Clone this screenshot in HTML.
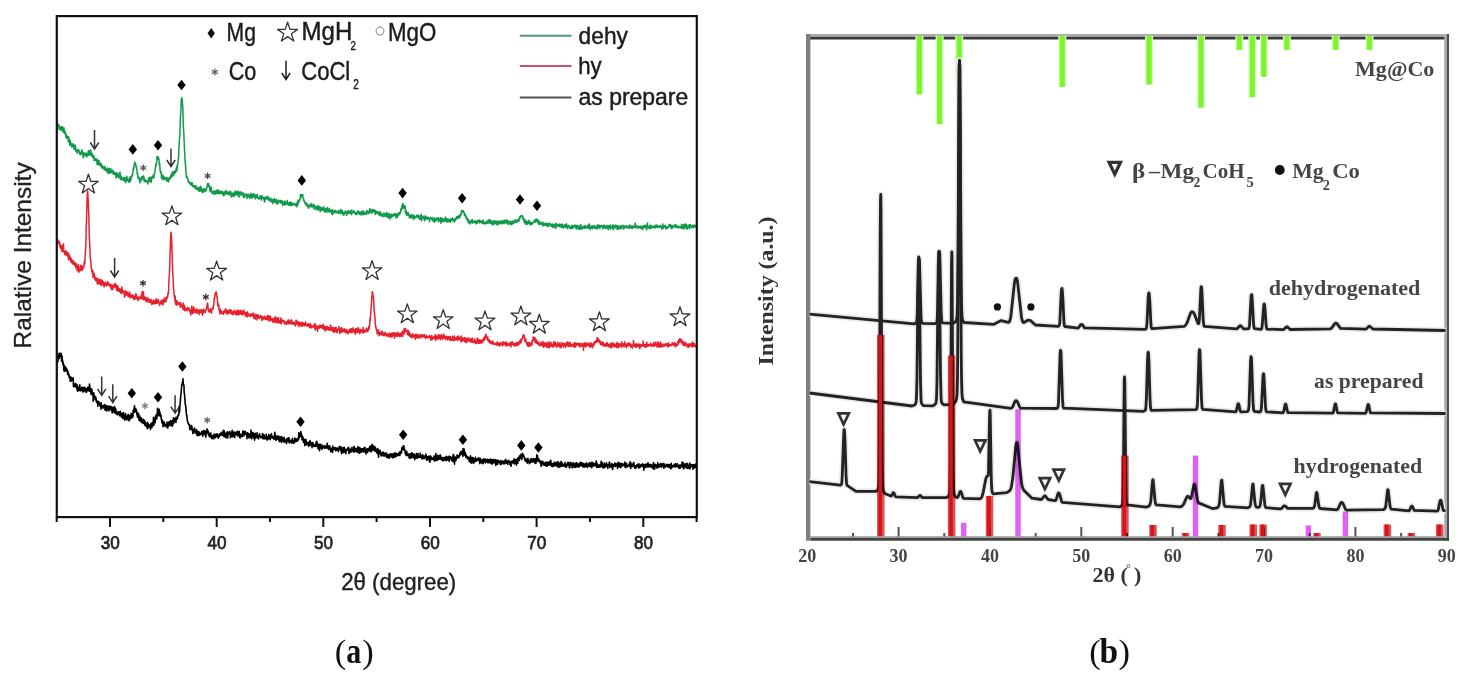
<!DOCTYPE html>
<html><head><meta charset="utf-8"><style>
html,body{margin:0;padding:0;background:#fff;}
body{width:1468px;height:676px;overflow:hidden;}
svg{display:block;}
.s{font-family:"Liberation Sans",sans-serif;}
.t{font-family:"Liberation Serif",serif;font-weight:bold;}
</style></head><body>
<svg width="1468" height="676" viewBox="0 0 1468 676">
<rect x="0" y="0" width="1468" height="676" fill="#fff"/>

<g fill="none" stroke-linejoin="round" stroke-linecap="round">
<polyline stroke="#129a4c" stroke-width="1.5" points="57.5,125.4 57.8,126.2 58.0,125.3 58.2,124.3 58.5,125.4 58.8,124.6 59.0,127.0 59.2,129.8 59.5,126.4 59.8,126.4 60.0,128.9 60.2,128.9 60.5,128.6 60.8,126.9 61.0,128.9 61.2,130.6 61.5,126.9 61.8,129.0 62.0,126.4 62.2,127.9 62.5,127.2 62.8,130.6 63.0,128.9 63.2,132.2 63.5,132.3 63.8,132.0 64.0,127.8 64.2,131.9 64.5,133.2 64.8,133.8 65.0,131.0 65.2,133.4 65.5,132.8 65.8,133.5 66.0,137.4 66.2,134.2 66.5,136.1 66.8,138.3 67.0,135.9 67.2,137.2 67.5,138.1 67.8,138.4 68.0,136.4 68.2,139.3 68.5,142.1 68.8,137.1 69.0,142.0 69.2,141.1 69.5,140.1 69.8,145.4 70.0,143.4 70.2,140.2 70.5,142.9 70.8,144.2 71.0,143.1 71.2,145.0 71.5,144.0 71.8,145.6 72.0,147.3 72.2,143.8 72.5,145.7 72.8,144.8 73.0,146.2 73.2,144.1 73.5,145.5 73.8,146.5 74.0,148.8 74.2,149.5 74.5,145.3 74.8,146.6 75.0,149.4 75.2,145.0 75.5,148.0 75.8,148.9 76.0,151.6 76.2,150.8 76.5,149.2 76.8,149.4 77.0,149.9 77.2,153.2 77.5,150.0 77.8,150.4 78.0,151.8 78.2,151.1 78.5,151.2 78.8,149.7 79.0,151.9 79.2,151.3 79.5,154.3 79.8,153.5 80.0,152.5 80.2,153.8 80.5,152.2 80.8,154.7 81.0,153.0 81.2,154.2 81.5,151.0 81.8,154.0 82.0,150.5 82.2,150.0 82.5,153.2 82.8,152.2 83.0,154.2 83.2,157.9 83.5,152.7 83.8,153.1 84.0,154.7 84.2,155.3 84.5,154.2 84.8,154.2 85.0,155.9 85.2,155.7 85.5,153.1 85.8,154.8 86.0,155.1 86.2,153.3 86.5,155.6 86.8,153.7 87.0,156.9 87.2,155.5 87.5,155.3 87.8,154.0 88.0,154.7 88.2,151.3 88.5,152.6 88.8,154.9 89.0,150.4 89.2,155.2 89.5,150.5 89.8,154.5 90.0,151.5 90.2,154.1 90.5,152.9 90.8,150.0 91.0,155.0 91.2,155.6 91.5,153.4 91.8,153.5 92.0,154.2 92.2,153.4 92.5,157.5 92.8,155.2 93.0,156.5 93.2,155.7 93.5,156.5 93.8,155.8 94.0,160.4 94.2,158.4 94.5,160.6 94.8,159.3 95.0,158.3 95.2,159.2 95.5,159.1 95.8,160.3 96.0,159.9 96.2,160.3 96.5,158.7 96.8,159.9 97.0,164.3 97.2,160.6 97.5,160.2 97.8,162.8 98.0,164.8 98.2,160.3 98.5,162.6 98.8,162.1 99.0,160.5 99.2,164.9 99.5,163.9 99.8,164.3 100.0,163.2 100.2,165.4 100.5,164.0 100.8,164.9 101.0,163.5 101.2,163.6 101.5,168.0 101.8,165.2 102.0,166.7 102.2,166.4 102.5,166.0 102.8,166.1 103.0,168.1 103.2,166.8 103.5,167.2 103.8,167.7 104.0,169.7 104.2,169.1 104.5,168.8 104.8,167.4 105.0,166.3 105.2,170.2 105.5,170.4 105.8,168.8 106.0,170.0 106.2,170.6 106.5,170.8 106.8,171.1 107.0,169.0 107.2,172.4 107.5,168.1 107.8,171.6 108.0,171.2 108.2,171.9 108.5,173.7 108.8,173.2 109.0,169.1 109.2,168.4 109.5,172.5 109.8,169.8 110.0,171.5 110.2,173.0 110.5,169.2 110.8,168.6 111.0,172.5 111.2,172.3 111.5,171.9 111.8,172.5 112.0,171.2 112.2,170.3 112.5,172.6 112.8,171.5 113.0,170.5 113.2,174.0 113.5,173.3 113.8,174.2 114.0,172.1 114.2,172.7 114.5,172.3 114.8,172.6 115.0,174.5 115.2,173.1 115.5,175.0 115.8,175.1 116.0,177.9 116.2,172.7 116.5,176.4 116.8,175.0 117.0,175.2 117.2,173.1 117.5,174.8 117.8,176.8 118.0,175.7 118.2,176.1 118.5,175.7 118.8,178.0 119.0,176.4 119.2,173.2 119.5,175.6 119.8,173.8 120.0,172.0 120.2,176.4 120.5,179.4 120.8,177.6 121.0,175.8 121.2,176.3 121.5,179.7 121.8,178.3 122.0,178.3 122.2,178.3 122.5,178.6 122.8,179.9 123.0,179.6 123.2,179.2 123.5,177.4 123.8,179.9 124.0,178.2 124.2,181.0 124.5,177.6 124.8,179.4 125.0,179.7 125.2,177.8 125.5,182.4 125.8,182.1 126.0,179.3 126.2,181.2 126.5,180.6 126.8,176.2 127.0,180.5 127.2,180.0 127.5,180.3 127.8,178.5 128.0,179.7 128.2,179.9 128.5,181.9 128.8,180.6 129.0,180.0 129.2,182.2 129.5,179.0 129.8,179.1 130.0,176.8 130.2,181.6 130.5,180.4 130.8,180.0 131.0,179.2 131.2,177.8 131.5,177.4 131.8,175.9 132.0,175.2 132.2,174.6 132.5,175.7 132.8,173.1 133.0,171.0 133.2,168.9 133.5,167.5 133.8,169.5 134.0,166.7 134.2,164.9 134.5,163.5 134.8,161.9 135.0,163.2 135.2,164.9 135.5,163.5 135.8,164.7 136.0,165.8 136.2,167.5 136.5,166.4 136.8,169.8 137.0,170.2 137.2,174.1 137.5,172.8 137.8,175.9 138.0,178.3 138.2,176.5 138.5,176.8 138.8,178.6 139.0,178.9 139.2,177.9 139.5,180.4 139.8,183.0 140.0,179.8 140.2,179.9 140.5,178.6 140.8,180.5 141.0,177.9 141.2,177.7 141.5,180.7 141.8,176.8 142.0,179.0 142.2,178.9 142.5,176.4 142.8,176.6 143.0,178.8 143.2,176.1 143.5,176.3 143.8,176.0 144.0,178.8 144.2,181.7 144.5,181.5 144.8,179.0 145.0,179.5 145.2,180.2 145.5,181.5 145.8,180.9 146.0,181.6 146.2,181.7 146.5,180.8 146.8,181.2 147.0,181.6 147.2,181.1 147.5,182.0 147.8,183.9 148.0,181.9 148.2,181.0 148.5,178.3 148.8,181.3 149.0,177.7 149.2,178.3 149.5,181.6 149.8,181.2 150.0,179.8 150.2,177.2 150.5,179.1 150.8,178.5 151.0,180.3 151.2,182.5 151.5,179.2 151.8,177.5 152.0,176.7 152.2,178.2 152.5,177.7 152.8,176.0 153.0,177.5 153.2,175.2 153.5,178.2 153.8,177.5 154.0,176.9 154.2,173.8 154.5,174.3 154.8,172.3 155.0,170.7 155.2,169.5 155.5,166.6 155.8,164.8 156.0,166.6 156.2,163.5 156.5,162.5 156.8,162.1 157.0,156.6 157.2,156.9 157.5,157.6 157.8,157.6 158.0,156.6 158.2,159.3 158.5,159.0 158.8,158.2 159.0,160.1 159.2,164.3 159.5,165.4 159.8,163.5 160.0,169.9 160.2,170.3 160.5,172.8 160.8,171.4 161.0,172.6 161.2,172.3 161.5,178.7 161.8,175.3 162.0,178.5 162.2,175.7 162.5,177.3 162.8,174.9 163.0,177.1 163.2,179.4 163.5,176.2 163.8,179.9 164.0,179.0 164.2,177.0 164.5,178.0 164.8,178.2 165.0,179.0 165.2,178.3 165.5,178.0 165.8,178.9 166.0,177.9 166.2,177.6 166.5,179.6 166.8,181.1 167.0,177.5 167.2,179.9 167.5,178.9 167.8,178.4 168.0,181.2 168.2,179.1 168.5,182.0 168.8,178.4 169.0,179.9 169.2,178.7 169.5,177.5 169.8,179.2 170.0,177.7 170.2,178.5 170.5,177.1 170.8,175.1 171.0,176.2 171.2,176.1 171.5,177.2 171.8,174.1 172.0,175.2 172.2,172.4 172.5,175.9 172.8,173.0 173.0,171.7 173.2,174.2 173.5,175.8 173.8,171.5 174.0,171.9 174.2,172.2 174.5,171.3 174.8,173.4 175.0,171.2 175.2,171.0 175.5,172.6 175.8,170.1 176.0,171.5 176.2,168.8 176.5,167.7 176.8,166.0 177.0,170.7 177.2,166.2 177.5,165.7 177.8,163.6 178.0,161.9 178.2,159.3 178.5,159.4 178.8,151.6 179.0,147.1 179.2,143.7 179.5,138.5 179.8,136.7 180.0,131.3 180.2,122.9 180.5,116.5 180.8,112.5 181.0,110.1 181.2,99.4 181.5,101.5 181.8,97.5 182.0,100.9 182.2,99.5 182.5,104.1 182.8,107.0 183.0,113.4 183.2,123.0 183.5,128.5 183.8,132.9 184.0,138.3 184.2,142.5 184.5,149.9 184.8,155.2 185.0,159.4 185.2,163.0 185.5,164.7 185.8,169.0 186.0,171.3 186.2,175.2 186.5,177.6 186.8,176.0 187.0,176.2 187.2,178.2 187.5,178.2 187.8,178.7 188.0,180.4 188.2,179.5 188.5,182.4 188.8,181.8 189.0,182.7 189.2,182.4 189.5,182.0 189.8,182.0 190.0,183.3 190.2,183.1 190.5,184.6 190.8,184.5 191.0,182.7 191.2,185.0 191.5,183.2 191.8,184.5 192.0,185.2 192.2,182.8 192.5,186.1 192.8,186.4 193.0,186.1 193.2,185.9 193.5,186.2 193.8,185.5 194.0,186.7 194.2,186.4 194.5,187.5 194.8,185.8 195.0,188.0 195.2,188.0 195.5,187.8 195.8,187.5 196.0,189.0 196.2,186.0 196.5,189.2 196.8,189.0 197.0,189.2 197.2,189.4 197.5,188.0 197.8,188.7 198.0,190.1 198.2,189.9 198.5,189.7 198.8,187.3 199.0,190.3 199.2,191.3 199.5,191.1 199.8,190.1 200.0,187.6 200.2,191.2 200.5,189.7 200.8,186.3 201.0,190.5 201.2,187.9 201.5,188.2 201.8,189.2 202.0,192.0 202.2,189.7 202.5,190.6 202.8,192.7 203.0,192.5 203.2,190.1 203.5,190.0 203.8,188.5 204.0,189.3 204.2,190.9 204.5,190.9 204.8,190.4 205.0,191.7 205.2,189.1 205.5,190.0 205.8,190.9 206.0,190.4 206.2,190.7 206.5,189.2 206.8,187.6 207.0,187.8 207.2,185.1 207.5,183.4 207.8,186.0 208.0,184.9 208.2,185.7 208.5,183.5 208.8,186.1 209.0,186.7 209.2,187.1 209.5,185.8 209.8,189.1 210.0,191.3 210.2,190.9 210.5,189.7 210.8,190.7 211.0,192.0 211.2,187.1 211.5,190.9 211.8,191.9 212.0,192.2 212.2,193.7 212.5,192.9 212.8,191.8 213.0,191.8 213.2,192.6 213.5,190.7 213.8,191.5 214.0,192.8 214.2,194.4 214.5,191.4 214.8,191.6 215.0,192.0 215.2,193.6 215.5,191.7 215.8,193.9 216.0,190.5 216.2,191.6 216.5,191.6 216.8,193.0 217.0,193.4 217.2,189.9 217.5,190.7 217.8,192.5 218.0,191.2 218.2,190.0 218.5,193.6 218.8,192.9 219.0,192.9 219.2,191.6 219.5,193.7 219.8,191.9 220.0,193.8 220.2,191.1 220.5,191.2 220.8,192.7 221.0,191.4 221.2,193.4 221.5,192.8 221.8,191.2 222.0,192.6 222.2,192.1 222.5,193.9 222.8,191.7 223.0,192.0 223.2,194.4 223.5,195.8 223.8,195.5 224.0,192.8 224.2,193.1 224.5,194.9 224.8,192.6 225.0,191.5 225.2,193.0 225.5,193.5 225.8,191.8 226.0,190.6 226.2,191.0 226.5,193.9 226.8,192.0 227.0,192.9 227.2,193.4 227.5,194.0 227.8,192.7 228.0,193.9 228.2,191.9 228.5,192.7 228.8,191.8 229.0,194.8 229.2,193.3 229.5,192.3 229.8,192.9 230.0,193.1 230.2,194.4 230.5,191.2 230.8,192.0 231.0,192.9 231.2,197.0 231.5,194.9 231.8,193.4 232.0,194.6 232.2,196.5 232.5,193.3 232.8,193.2 233.0,195.4 233.2,194.4 233.5,194.7 233.8,193.1 234.0,196.5 234.2,196.2 234.5,194.7 234.8,194.8 235.0,191.1 235.2,194.8 235.5,193.7 235.8,194.6 236.0,195.0 236.2,193.6 236.5,191.7 236.8,194.6 237.0,193.1 237.2,193.7 237.5,193.4 237.8,193.8 238.0,191.1 238.2,196.0 238.5,194.7 238.8,195.9 239.0,197.1 239.2,194.4 239.5,191.9 239.8,193.2 240.0,192.8 240.2,193.8 240.5,194.7 240.8,191.8 241.0,195.1 241.2,192.6 241.5,195.1 241.8,194.6 242.0,194.3 242.2,194.7 242.5,194.1 242.8,194.0 243.0,192.6 243.2,194.9 243.5,197.5 243.8,197.7 244.0,196.8 244.2,196.0 244.5,194.1 244.8,197.1 245.0,195.1 245.2,195.1 245.5,194.8 245.8,195.4 246.0,194.7 246.2,195.2 246.5,193.9 246.8,194.9 247.0,198.6 247.2,195.4 247.5,195.2 247.8,196.3 248.0,196.5 248.2,194.1 248.5,195.4 248.8,196.9 249.0,196.1 249.2,195.9 249.5,197.9 249.8,194.9 250.0,196.0 250.2,195.2 250.5,198.0 250.8,193.3 251.0,195.1 251.2,195.4 251.5,197.0 251.8,197.0 252.0,198.1 252.2,194.1 252.5,197.3 252.8,195.9 253.0,195.5 253.2,197.2 253.5,195.2 253.8,193.7 254.0,196.0 254.2,194.5 254.5,195.8 254.8,197.2 255.0,197.2 255.2,199.0 255.5,196.6 255.8,194.8 256.0,195.9 256.2,195.7 256.5,195.4 256.8,197.7 257.0,196.2 257.2,194.5 257.5,198.2 257.8,197.1 258.0,197.8 258.2,197.5 258.5,198.3 258.8,197.5 259.0,199.2 259.2,198.1 259.5,198.1 259.8,198.2 260.0,195.7 260.2,197.5 260.5,197.4 260.8,198.1 261.0,196.1 261.2,200.2 261.5,198.1 261.8,196.4 262.0,195.8 262.2,197.8 262.5,198.1 262.8,197.3 263.0,198.4 263.2,197.5 263.5,199.1 263.8,197.5 264.0,198.5 264.2,199.9 264.5,202.1 264.8,197.3 265.0,198.1 265.2,197.6 265.5,199.9 265.8,197.3 266.0,198.3 266.2,198.9 266.5,197.7 266.8,197.8 267.0,198.5 267.2,196.3 267.5,197.3 267.8,198.7 268.0,199.5 268.2,199.1 268.5,197.0 268.8,198.9 269.0,200.6 269.2,200.3 269.5,199.5 269.8,198.5 270.0,200.6 270.2,199.0 270.5,198.3 270.8,198.8 271.0,201.9 271.2,200.3 271.5,201.6 271.8,199.4 272.0,201.4 272.2,199.4 272.5,200.0 272.8,203.6 273.0,201.3 273.2,199.7 273.5,200.3 273.8,200.9 274.0,202.1 274.2,199.9 274.5,198.3 274.8,200.3 275.0,200.7 275.2,200.9 275.5,202.6 275.8,201.3 276.0,202.0 276.2,199.5 276.5,202.2 276.8,203.9 277.0,202.2 277.2,201.5 277.5,201.5 277.8,203.7 278.0,200.1 278.2,201.3 278.5,202.1 278.8,202.5 279.0,201.0 279.2,202.0 279.5,201.3 279.8,201.9 280.0,201.6 280.2,200.3 280.5,201.9 280.8,203.1 281.0,200.7 281.2,201.8 281.5,203.0 281.8,200.8 282.0,202.5 282.2,200.9 282.5,203.8 282.8,205.4 283.0,205.1 283.2,202.2 283.5,203.5 283.8,202.8 284.0,202.8 284.2,204.8 284.5,201.0 284.8,204.2 285.0,202.8 285.2,204.8 285.5,203.2 285.8,202.1 286.0,203.4 286.2,204.1 286.5,203.2 286.8,203.9 287.0,202.6 287.2,200.5 287.5,204.5 287.8,204.3 288.0,203.6 288.2,203.6 288.5,204.9 288.8,203.0 289.0,202.7 289.2,203.4 289.5,205.3 289.8,201.9 290.0,205.3 290.2,203.0 290.5,202.4 290.8,205.5 291.0,203.8 291.2,202.3 291.5,203.5 291.8,205.2 292.0,205.6 292.2,203.5 292.5,204.6 292.8,205.0 293.0,203.3 293.2,204.6 293.5,204.1 293.8,203.5 294.0,203.6 294.2,204.3 294.5,204.2 294.8,203.5 295.0,203.6 295.2,205.6 295.5,204.4 295.8,205.2 296.0,205.6 296.2,204.7 296.5,206.8 296.8,202.7 297.0,204.6 297.2,203.0 297.5,205.6 297.8,205.1 298.0,200.1 298.2,201.0 298.5,202.8 298.8,202.5 299.0,201.9 299.2,200.3 299.5,200.4 299.8,200.1 300.0,198.5 300.2,199.3 300.5,194.4 300.8,197.6 301.0,194.9 301.2,197.1 301.5,195.3 301.8,194.4 302.0,196.1 302.2,194.7 302.5,195.1 302.8,194.7 303.0,197.3 303.2,198.6 303.5,200.0 303.8,199.2 304.0,201.4 304.2,200.7 304.5,201.1 304.8,202.6 305.0,203.7 305.2,202.4 305.5,202.9 305.8,203.4 306.0,204.1 306.2,203.1 306.5,205.8 306.8,204.2 307.0,205.5 307.2,204.0 307.5,205.6 307.8,205.8 308.0,204.9 308.2,208.1 308.5,206.1 308.8,208.0 309.0,207.0 309.2,205.0 309.5,205.4 309.8,206.5 310.0,206.1 310.2,206.2 310.5,205.8 310.8,203.9 311.0,206.0 311.2,203.5 311.5,206.9 311.8,205.5 312.0,205.6 312.2,206.3 312.5,207.0 312.8,204.9 313.0,204.5 313.2,205.4 313.5,204.3 313.8,205.7 314.0,209.0 314.2,205.7 314.5,207.9 314.8,205.4 315.0,207.6 315.2,206.9 315.5,207.3 315.8,208.2 316.0,209.7 316.2,207.8 316.5,207.8 316.8,206.5 317.0,208.5 317.2,207.5 317.5,208.9 317.8,207.9 318.0,210.2 318.2,205.6 318.5,207.8 318.8,209.3 319.0,207.8 319.2,207.4 319.5,208.1 319.8,206.8 320.0,208.7 320.2,211.7 320.5,210.1 320.8,207.4 321.0,207.7 321.2,208.4 321.5,210.2 321.8,208.0 322.0,208.2 322.2,210.3 322.5,210.3 322.8,208.8 323.0,208.0 323.2,207.5 323.5,208.6 323.8,206.8 324.0,210.6 324.2,208.9 324.5,210.4 324.8,212.2 325.0,211.4 325.2,208.5 325.5,211.1 325.8,211.5 326.0,209.2 326.2,209.0 326.5,210.1 326.8,208.3 327.0,212.2 327.2,207.4 327.5,209.1 327.8,210.2 328.0,210.3 328.2,210.9 328.5,211.1 328.8,210.5 329.0,212.2 329.2,208.2 329.5,210.9 329.8,210.1 330.0,211.2 330.2,211.3 330.5,210.0 330.8,210.4 331.0,212.2 331.2,211.7 331.5,210.4 331.8,213.8 332.0,214.2 332.2,209.6 332.5,211.8 332.8,214.6 333.0,212.5 333.2,211.8 333.5,211.3 333.8,210.9 334.0,211.3 334.2,210.9 334.5,212.6 334.8,211.2 335.0,211.2 335.2,210.2 335.5,211.7 335.8,210.7 336.0,211.6 336.2,213.1 336.5,212.3 336.8,212.5 337.0,212.3 337.2,212.0 337.5,211.8 337.8,211.6 338.0,212.9 338.2,210.6 338.5,213.6 338.8,212.1 339.0,211.1 339.2,211.4 339.5,211.2 339.8,212.3 340.0,211.2 340.2,213.5 340.5,211.2 340.8,209.4 341.0,211.3 341.2,209.7 341.5,212.1 341.8,213.5 342.0,213.0 342.2,210.6 342.5,211.3 342.8,214.5 343.0,212.7 343.2,212.3 343.5,213.6 343.8,215.3 344.0,213.9 344.2,212.5 344.5,212.8 344.8,213.1 345.0,211.6 345.2,211.1 345.5,212.5 345.8,211.3 346.0,212.4 346.2,212.6 346.5,215.3 346.8,211.4 347.0,212.3 347.2,212.3 347.5,213.0 347.8,213.8 348.0,211.9 348.2,211.5 348.5,210.5 348.8,211.4 349.0,213.2 349.2,212.6 349.5,211.4 349.8,212.2 350.0,212.7 350.2,213.2 350.5,211.9 350.8,212.3 351.0,210.4 351.2,211.3 351.5,214.7 351.8,210.0 352.0,212.3 352.2,213.0 352.5,212.3 352.8,211.7 353.0,212.7 353.2,212.8 353.5,212.7 353.8,210.5 354.0,212.6 354.2,211.8 354.5,212.1 354.8,213.1 355.0,213.6 355.2,213.9 355.5,212.2 355.8,214.0 356.0,214.3 356.2,214.3 356.5,214.6 356.8,212.7 357.0,212.7 357.2,213.9 357.5,211.3 357.8,213.2 358.0,212.3 358.2,212.5 358.5,210.8 358.8,211.9 359.0,213.0 359.2,214.1 359.5,214.2 359.8,212.9 360.0,212.8 360.2,212.0 360.5,213.5 360.8,212.7 361.0,213.7 361.2,215.1 361.5,213.0 361.8,211.2 362.0,211.9 362.2,211.2 362.5,211.5 362.8,214.6 363.0,213.2 363.2,211.1 363.5,213.7 363.8,214.4 364.0,212.4 364.2,212.0 364.5,212.4 364.8,213.1 365.0,213.5 365.2,214.2 365.5,214.2 365.8,214.1 366.0,214.3 366.2,213.4 366.5,210.6 366.8,212.3 367.0,212.8 367.2,211.9 367.5,213.4 367.8,211.7 368.0,211.0 368.2,213.8 368.5,212.8 368.8,212.2 369.0,212.9 369.2,213.0 369.5,212.1 369.8,208.6 370.0,210.7 370.2,210.9 370.5,210.1 370.8,211.5 371.0,212.6 371.2,210.5 371.5,209.7 371.8,213.4 372.0,210.4 372.2,209.4 372.5,211.1 372.8,211.3 373.0,210.0 373.2,211.8 373.5,210.2 373.8,209.7 374.0,211.1 374.2,211.8 374.5,210.2 374.8,211.4 375.0,211.0 375.2,214.6 375.5,210.4 375.8,213.0 376.0,211.4 376.2,211.4 376.5,212.6 376.8,212.9 377.0,213.5 377.2,212.5 377.5,211.5 377.8,211.7 378.0,213.1 378.2,213.3 378.5,214.4 378.8,213.4 379.0,214.3 379.2,215.0 379.5,213.5 379.8,211.6 380.0,212.1 380.2,211.9 380.5,215.7 380.8,212.8 381.0,215.4 381.2,214.8 381.5,216.2 381.8,215.5 382.0,214.2 382.2,214.2 382.5,214.6 382.8,214.8 383.0,214.1 383.2,214.7 383.5,216.8 383.8,212.9 384.0,215.3 384.2,213.9 384.5,215.3 384.8,216.1 385.0,215.1 385.2,216.2 385.5,213.4 385.8,216.6 386.0,214.6 386.2,216.1 386.5,215.6 386.8,212.4 387.0,214.6 387.2,215.8 387.5,217.4 387.8,215.9 388.0,215.9 388.2,213.9 388.5,217.3 388.8,217.8 389.0,215.7 389.2,215.4 389.5,213.8 389.8,216.8 390.0,218.9 390.2,216.6 390.5,217.2 390.8,216.4 391.0,214.6 391.2,217.4 391.5,214.3 391.8,215.5 392.0,216.1 392.2,216.8 392.5,216.3 392.8,216.2 393.0,214.9 393.2,214.2 393.5,215.9 393.8,214.9 394.0,214.2 394.2,214.2 394.5,215.2 394.8,213.5 395.0,214.1 395.2,213.8 395.5,215.9 395.8,216.2 396.0,218.0 396.2,213.8 396.5,214.8 396.8,216.6 397.0,215.2 397.2,215.0 397.5,217.4 397.8,214.8 398.0,213.7 398.2,213.4 398.5,215.2 398.8,215.0 399.0,212.7 399.2,212.9 399.5,214.4 399.8,214.0 400.0,212.1 400.2,213.2 400.5,212.6 400.8,209.1 401.0,210.3 401.2,210.4 401.5,208.6 401.8,206.0 402.0,207.5 402.2,208.0 402.5,208.4 402.8,203.4 403.0,208.8 403.2,204.2 403.5,206.6 403.8,207.1 404.0,207.2 404.2,206.7 404.5,205.7 404.8,208.5 405.0,207.6 405.2,206.2 405.5,213.3 405.8,211.5 406.0,213.5 406.2,210.9 406.5,214.3 406.8,214.9 407.0,215.4 407.2,213.9 407.5,212.9 407.8,214.4 408.0,212.2 408.2,213.1 408.5,215.4 408.8,214.3 409.0,215.4 409.2,215.6 409.5,218.1 409.8,217.5 410.0,215.9 410.2,217.5 410.5,215.2 410.8,215.8 411.0,217.3 411.2,214.8 411.5,216.0 411.8,214.8 412.0,216.5 412.2,218.4 412.5,215.6 412.8,216.8 413.0,215.5 413.2,215.2 413.5,215.1 413.8,218.4 414.0,219.5 414.2,217.3 414.5,215.9 414.8,217.6 415.0,216.4 415.2,217.8 415.5,217.2 415.8,217.2 416.0,217.6 416.2,216.2 416.5,216.5 416.8,214.9 417.0,216.5 417.2,215.3 417.5,216.9 417.8,215.9 418.0,217.2 418.2,217.7 418.5,215.5 418.8,216.2 419.0,216.1 419.2,218.1 419.5,219.3 419.8,218.3 420.0,216.9 420.2,219.1 420.5,215.6 420.8,219.2 421.0,216.7 421.2,214.2 421.5,220.7 421.8,219.4 422.0,216.4 422.2,217.8 422.5,217.4 422.8,217.8 423.0,216.0 423.2,216.9 423.5,218.3 423.8,218.1 424.0,219.2 424.2,218.0 424.5,220.7 424.8,217.1 425.0,218.3 425.2,215.7 425.5,216.5 425.8,219.6 426.0,217.0 426.2,218.7 426.5,218.1 426.8,216.9 427.0,217.8 427.2,217.6 427.5,217.7 427.8,219.2 428.0,219.1 428.2,217.7 428.5,217.3 428.8,218.8 429.0,218.3 429.2,219.7 429.5,221.6 429.8,219.5 430.0,218.5 430.2,218.4 430.5,217.6 430.8,217.6 431.0,217.5 431.2,218.3 431.5,218.3 431.8,219.7 432.0,218.4 432.2,218.6 432.5,217.5 432.8,220.9 433.0,219.6 433.2,221.1 433.5,219.9 433.8,220.8 434.0,218.8 434.2,219.9 434.5,222.3 434.8,217.7 435.0,220.6 435.2,221.2 435.5,219.7 435.8,220.2 436.0,220.8 436.2,218.5 436.5,219.8 436.8,218.3 437.0,218.6 437.2,218.7 437.5,219.3 437.8,219.7 438.0,220.0 438.2,217.8 438.5,221.9 438.8,221.0 439.0,220.5 439.2,219.2 439.5,219.5 439.8,220.3 440.0,220.2 440.2,217.7 440.5,220.6 440.8,223.2 441.0,217.6 441.2,221.0 441.5,220.2 441.8,219.7 442.0,221.5 442.2,218.4 442.5,220.1 442.8,221.6 443.0,219.7 443.2,219.4 443.5,220.1 443.8,219.4 444.0,221.8 444.2,218.9 444.5,221.0 444.8,218.5 445.0,220.8 445.2,219.9 445.5,216.9 445.8,220.0 446.0,218.8 446.2,219.5 446.5,221.9 446.8,218.7 447.0,218.8 447.2,221.8 447.5,220.2 447.8,221.9 448.0,220.4 448.2,219.0 448.5,220.0 448.8,221.5 449.0,221.2 449.2,220.1 449.5,220.1 449.8,219.9 450.0,219.3 450.2,222.3 450.5,220.0 450.8,218.7 451.0,219.4 451.2,220.8 451.5,220.7 451.8,219.8 452.0,219.1 452.2,219.9 452.5,217.9 452.8,218.3 453.0,220.7 453.2,219.2 453.5,220.2 453.8,221.1 454.0,220.4 454.2,219.6 454.5,222.1 454.8,220.3 455.0,219.0 455.2,220.3 455.5,219.8 455.8,218.3 456.0,219.3 456.2,218.9 456.5,216.7 456.8,218.7 457.0,218.5 457.2,218.1 457.5,216.5 457.8,217.9 458.0,218.1 458.2,218.0 458.5,216.3 458.8,218.1 459.0,215.6 459.2,216.5 459.5,217.9 459.8,215.2 460.0,215.0 460.2,216.5 460.5,214.3 460.8,213.9 461.0,214.1 461.2,214.6 461.5,210.4 461.8,211.6 462.0,211.0 462.2,210.7 462.5,210.8 462.8,210.7 463.0,212.1 463.2,210.8 463.5,212.2 463.8,212.8 464.0,211.9 464.2,213.3 464.5,215.6 464.8,214.6 465.0,214.0 465.2,215.3 465.5,214.8 465.8,216.8 466.0,218.0 466.2,216.5 466.5,217.7 466.8,219.7 467.0,218.2 467.2,219.4 467.5,218.3 467.8,218.9 468.0,219.5 468.2,222.9 468.5,220.1 468.8,220.2 469.0,220.3 469.2,221.0 469.5,222.0 469.8,221.6 470.0,223.9 470.2,221.9 470.5,223.4 470.8,222.1 471.0,222.5 471.2,220.3 471.5,221.8 471.8,221.9 472.0,221.7 472.2,219.6 472.5,223.1 472.8,221.6 473.0,221.6 473.2,221.8 473.5,221.9 473.8,222.6 474.0,220.7 474.2,221.1 474.5,222.5 474.8,222.4 475.0,221.8 475.2,221.6 475.5,221.3 475.8,222.2 476.0,223.6 476.2,221.0 476.5,224.0 476.8,223.2 477.0,221.8 477.2,223.2 477.5,220.6 477.8,220.3 478.0,220.8 478.2,221.8 478.5,221.9 478.8,221.7 479.0,222.4 479.2,219.9 479.5,222.9 479.8,220.7 480.0,221.6 480.2,221.9 480.5,221.0 480.8,220.8 481.0,221.2 481.2,222.3 481.5,223.0 481.8,223.0 482.0,221.2 482.2,221.5 482.5,221.3 482.8,222.9 483.0,220.0 483.2,223.8 483.5,221.8 483.8,221.5 484.0,222.8 484.2,223.6 484.5,222.8 484.8,223.6 485.0,222.5 485.2,223.8 485.5,223.8 485.8,222.3 486.0,224.0 486.2,222.6 486.5,222.5 486.8,221.3 487.0,222.1 487.2,223.3 487.5,220.9 487.8,223.1 488.0,222.8 488.2,222.7 488.5,219.9 488.8,222.3 489.0,223.1 489.2,221.5 489.5,222.5 489.8,219.7 490.0,223.2 490.2,221.7 490.5,223.4 490.8,220.3 491.0,223.2 491.2,222.1 491.5,223.3 491.8,221.4 492.0,221.7 492.2,225.0 492.5,221.5 492.8,221.6 493.0,222.1 493.2,221.2 493.5,223.8 493.8,224.4 494.0,221.6 494.2,220.4 494.5,223.7 494.8,223.7 495.0,223.4 495.2,223.7 495.5,221.4 495.8,222.2 496.0,220.8 496.2,220.8 496.5,223.5 496.8,221.6 497.0,225.0 497.2,222.5 497.5,221.7 497.8,223.3 498.0,224.5 498.2,223.0 498.5,221.0 498.8,222.8 499.0,224.0 499.2,221.8 499.5,221.5 499.8,223.6 500.0,222.6 500.2,221.2 500.5,222.0 500.8,221.5 501.0,222.7 501.2,222.5 501.5,223.7 501.8,223.2 502.0,220.6 502.2,222.9 502.5,223.4 502.8,222.9 503.0,223.6 503.2,221.8 503.5,221.3 503.8,223.5 504.0,221.2 504.2,219.9 504.5,223.6 504.8,221.6 505.0,222.0 505.2,220.8 505.5,220.9 505.8,221.1 506.0,222.0 506.2,222.8 506.5,219.8 506.8,223.2 507.0,221.0 507.2,221.1 507.5,223.1 507.8,222.3 508.0,220.6 508.2,224.4 508.5,221.4 508.8,222.6 509.0,222.6 509.2,223.9 509.5,221.8 509.8,223.5 510.0,221.5 510.2,223.6 510.5,221.4 510.8,221.9 511.0,224.4 511.2,222.6 511.5,222.4 511.8,224.8 512.0,222.7 512.2,221.3 512.5,223.1 512.8,220.9 513.0,223.5 513.2,223.6 513.5,221.5 513.8,221.5 514.0,222.4 514.2,222.2 514.5,221.0 514.8,222.8 515.0,219.8 515.2,221.6 515.5,221.6 515.8,221.7 516.0,222.3 516.2,220.5 516.5,222.5 516.8,221.5 517.0,220.8 517.2,219.9 517.5,219.9 517.8,221.5 518.0,219.7 518.2,220.6 518.5,221.4 518.8,220.9 519.0,221.1 519.2,218.5 519.5,217.0 519.8,218.8 520.0,217.4 520.2,217.8 520.5,216.0 520.8,216.8 521.0,216.1 521.2,215.7 521.5,215.4 521.8,215.4 522.0,215.4 522.2,215.8 522.5,217.2 522.8,216.1 523.0,219.2 523.2,217.8 523.5,219.6 523.8,219.0 524.0,219.3 524.2,222.4 524.5,220.1 524.8,219.4 525.0,220.4 525.2,221.1 525.5,224.2 525.8,222.2 526.0,223.2 526.2,221.1 526.5,222.8 526.8,223.2 527.0,224.6 527.2,221.8 527.5,223.4 527.8,223.1 528.0,221.6 528.2,222.8 528.5,222.6 528.8,220.3 529.0,223.6 529.2,223.6 529.5,222.5 529.8,221.5 530.0,224.7 530.2,223.3 530.5,224.2 530.8,224.6 531.0,222.5 531.2,224.0 531.5,222.7 531.8,222.9 532.0,222.8 532.2,222.9 532.5,224.0 532.8,222.8 533.0,222.4 533.2,222.0 533.5,222.5 533.8,220.9 534.0,221.1 534.2,221.3 534.5,220.4 534.8,220.6 535.0,219.7 535.2,222.3 535.5,221.2 535.8,219.9 536.0,219.1 536.2,221.5 536.5,219.4 536.8,219.0 537.0,219.6 537.2,219.9 537.5,221.5 537.8,220.2 538.0,223.0 538.2,220.1 538.5,222.2 538.8,220.7 539.0,224.2 539.2,222.1 539.5,222.7 539.8,224.0 540.0,224.6 540.2,222.2 540.5,223.2 540.8,222.1 541.0,224.0 541.2,223.8 541.5,223.6 541.8,223.3 542.0,223.7 542.2,223.4 542.5,224.9 542.8,226.0 543.0,222.2 543.2,224.3 543.5,224.0 543.8,225.0 544.0,223.4 544.2,224.4 544.5,223.4 544.8,225.3 545.0,224.7 545.2,224.4 545.5,225.1 545.8,224.4 546.0,223.0 546.2,225.4 546.5,225.1 546.8,224.6 547.0,225.9 547.2,226.2 547.5,223.6 547.8,224.0 548.0,226.6 548.2,226.5 548.5,224.1 548.8,223.6 549.0,224.2 549.2,224.4 549.5,223.2 549.8,225.1 550.0,223.6 550.2,223.7 550.5,226.1 550.8,224.3 551.0,225.1 551.2,225.9 551.5,226.1 551.8,224.8 552.0,225.3 552.2,224.3 552.5,227.2 552.8,226.0 553.0,224.1 553.2,225.3 553.5,226.1 553.8,225.9 554.0,227.4 554.2,226.9 554.5,224.8 554.8,225.3 555.0,224.0 555.2,225.8 555.5,225.7 555.8,228.5 556.0,225.7 556.2,223.2 556.5,224.8 556.8,225.7 557.0,224.2 557.2,224.7 557.5,225.3 557.8,226.1 558.0,225.5 558.2,224.8 558.5,226.6 558.8,225.2 559.0,225.2 559.2,224.3 559.5,225.0 559.8,226.6 560.0,224.1 560.2,225.8 560.5,226.7 560.8,225.5 561.0,226.2 561.2,224.7 561.5,227.5 561.8,227.2 562.0,226.3 562.2,224.1 562.5,224.9 562.8,227.2 563.0,228.0 563.2,226.5 563.5,227.5 563.8,225.5 564.0,226.0 564.2,226.2 564.5,226.7 564.8,224.6 565.0,227.3 565.2,227.7 565.5,225.0 565.8,224.8 566.0,226.7 566.2,225.6 566.5,223.8 566.8,227.3 567.0,226.6 567.2,225.9 567.5,228.8 567.8,226.6 568.0,225.6 568.2,226.6 568.5,225.4 568.8,225.7 569.0,227.0 569.2,225.9 569.5,226.1 569.8,228.4 570.0,227.5 570.2,227.5 570.5,227.2 570.8,227.2 571.0,228.3 571.2,226.6 571.5,228.7 571.8,225.6 572.0,226.4 572.2,225.2 572.5,226.3 572.8,227.3 573.0,228.4 573.2,226.0 573.5,226.8 573.8,226.4 574.0,226.0 574.2,225.5 574.5,226.9 574.8,224.9 575.0,227.0 575.2,226.9 575.5,226.1 575.8,225.8 576.0,225.4 576.2,228.9 576.5,225.4 576.8,228.6 577.0,227.6 577.2,226.5 577.5,225.6 577.8,228.1 578.0,228.8 578.2,225.9 578.5,226.6 578.8,228.1 579.0,227.3 579.2,229.2 579.5,226.3 579.8,227.6 580.0,225.6 580.2,229.3 580.5,226.2 580.8,224.5 581.0,226.8 581.2,226.8 581.5,229.1 581.8,226.6 582.0,227.0 582.2,227.6 582.5,228.7 582.8,226.9 583.0,228.1 583.2,227.6 583.5,226.7 583.8,227.1 584.0,227.0 584.2,226.0 584.5,228.3 584.8,225.5 585.0,228.3 585.2,228.0 585.5,226.9 585.8,226.1 586.0,226.7 586.2,227.5 586.5,227.8 586.8,227.3 587.0,228.1 587.2,226.4 587.5,227.2 587.8,225.3 588.0,227.8 588.2,227.2 588.5,226.5 588.8,228.3 589.0,227.7 589.2,223.9 589.5,227.0 589.8,225.4 590.0,228.2 590.2,229.7 590.5,226.4 590.8,227.1 591.0,226.7 591.2,227.4 591.5,227.7 591.8,228.4 592.0,225.9 592.2,228.7 592.5,226.0 592.8,227.3 593.0,228.3 593.2,227.8 593.5,226.0 593.8,226.2 594.0,226.5 594.2,226.9 594.5,228.2 594.8,225.6 595.0,227.5 595.2,227.7 595.5,227.6 595.8,227.5 596.0,228.7 596.2,227.5 596.5,227.9 596.8,227.6 597.0,229.0 597.2,224.9 597.5,228.4 597.8,226.7 598.0,226.7 598.2,225.9 598.5,224.9 598.8,226.6 599.0,226.2 599.2,227.5 599.5,225.4 599.8,228.6 600.0,227.3 600.2,226.7 600.5,226.2 600.8,226.1 601.0,225.7 601.2,226.4 601.5,227.0 601.8,226.8 602.0,225.4 602.2,226.7 602.5,226.0 602.8,227.2 603.0,229.0 603.2,227.7 603.5,226.6 603.8,225.2 604.0,225.4 604.2,225.1 604.5,227.8 604.8,226.1 605.0,227.1 605.2,226.3 605.5,227.1 605.8,228.5 606.0,226.2 606.2,226.6 606.5,226.1 606.8,228.0 607.0,225.9 607.2,225.7 607.5,225.5 607.8,225.4 608.0,227.5 608.2,229.8 608.5,225.9 608.8,228.0 609.0,227.3 609.2,225.8 609.5,226.7 609.8,226.7 610.0,226.2 610.2,229.1 610.5,224.9 610.8,227.4 611.0,227.4 611.2,226.4 611.5,227.2 611.8,228.0 612.0,227.2 612.2,227.4 612.5,227.8 612.8,224.8 613.0,228.6 613.2,229.5 613.5,228.1 613.8,228.1 614.0,225.4 614.2,226.9 614.5,226.1 614.8,226.3 615.0,228.1 615.2,226.1 615.5,226.8 615.8,224.9 616.0,226.8 616.2,227.1 616.5,226.2 616.8,226.2 617.0,229.1 617.2,225.7 617.5,225.8 617.8,226.1 618.0,228.3 618.2,229.3 618.5,227.4 618.8,226.2 619.0,226.5 619.2,228.2 619.5,226.0 619.8,228.6 620.0,228.5 620.2,227.1 620.5,227.7 620.8,227.8 621.0,228.7 621.2,225.8 621.5,228.3 621.8,226.6 622.0,226.1 622.2,227.1 622.5,226.8 622.8,225.9 623.0,225.2 623.2,226.0 623.5,228.6 623.8,229.1 624.0,227.7 624.2,228.3 624.5,226.4 624.8,226.9 625.0,227.3 625.2,225.8 625.5,225.9 625.8,227.1 626.0,226.6 626.2,225.8 626.5,227.4 626.8,226.7 627.0,228.1 627.2,227.0 627.5,226.6 627.8,227.1 628.0,226.8 628.2,226.2 628.5,226.5 628.8,227.8 629.0,227.7 629.2,228.4 629.5,225.1 629.8,226.5 630.0,226.5 630.2,227.2 630.5,226.5 630.8,226.4 631.0,227.8 631.2,227.2 631.5,225.7 631.8,228.4 632.0,228.1 632.2,226.3 632.5,227.9 632.8,226.2 633.0,228.2 633.2,226.7 633.5,226.1 633.8,226.5 634.0,226.1 634.2,227.2 634.5,227.1 634.8,227.0 635.0,226.3 635.2,222.9 635.5,227.1 635.8,224.9 636.0,227.2 636.2,228.2 636.5,227.2 636.8,226.5 637.0,226.7 637.2,226.8 637.5,226.3 637.8,226.3 638.0,225.9 638.2,228.2 638.5,226.9 638.8,228.0 639.0,226.7 639.2,227.0 639.5,226.7 639.8,227.4 640.0,227.8 640.2,227.2 640.5,226.2 640.8,226.1 641.0,228.8 641.2,226.6 641.5,226.6 641.8,228.5 642.0,228.1 642.2,227.5 642.5,226.5 642.8,229.5 643.0,227.3 643.2,227.5 643.5,226.7 643.8,225.4 644.0,225.4 644.2,227.4 644.5,227.3 644.8,226.6 645.0,225.6 645.2,225.3 645.5,226.5 645.8,225.3 646.0,227.9 646.2,228.2 646.5,230.0 646.8,227.9 647.0,226.2 647.2,225.9 647.5,223.1 647.8,226.2 648.0,226.7 648.2,227.9 648.5,227.6 648.8,227.5 649.0,227.1 649.2,227.6 649.5,228.5 649.8,225.7 650.0,226.4 650.2,225.3 650.5,228.6 650.8,228.3 651.0,227.7 651.2,225.5 651.5,227.0 651.8,226.6 652.0,226.9 652.2,226.6 652.5,227.4 652.8,226.4 653.0,227.8 653.2,227.1 653.5,226.5 653.8,226.7 654.0,226.4 654.2,227.7 654.5,226.5 654.8,227.2 655.0,226.4 655.2,225.2 655.5,227.8 655.8,225.7 656.0,227.6 656.2,227.3 656.5,225.0 656.8,225.8 657.0,226.3 657.2,225.9 657.5,225.5 657.8,227.6 658.0,226.5 658.2,227.2 658.5,226.3 658.8,227.1 659.0,226.0 659.2,226.8 659.5,227.4 659.8,226.8 660.0,226.3 660.2,225.6 660.5,227.0 660.8,227.2 661.0,226.5 661.2,225.9 661.5,227.4 661.8,229.5 662.0,226.4 662.2,227.1 662.5,227.2 662.8,223.9 663.0,226.9 663.2,226.0 663.5,228.3 663.8,226.5 664.0,225.9 664.2,226.5 664.5,226.9 664.8,226.1 665.0,226.7 665.2,225.3 665.5,226.5 665.8,227.6 666.0,228.9 666.2,227.5 666.5,227.0 666.8,228.0 667.0,227.9 667.2,228.6 667.5,227.9 667.8,226.6 668.0,227.0 668.2,226.9 668.5,227.0 668.8,226.9 669.0,225.8 669.2,224.4 669.5,226.0 669.8,224.5 670.0,226.8 670.2,226.7 670.5,224.8 670.8,227.4 671.0,227.6 671.2,226.8 671.5,228.5 671.8,228.7 672.0,225.3 672.2,227.8 672.5,227.2 672.8,227.1 673.0,227.7 673.2,225.9 673.5,226.0 673.8,225.7 674.0,225.8 674.2,226.5 674.5,225.0 674.8,225.5 675.0,227.3 675.2,226.6 675.5,227.1 675.8,224.6 676.0,225.8 676.2,226.0 676.5,226.7 676.8,226.0 677.0,227.7 677.2,226.6 677.5,226.6 677.8,226.6 678.0,227.4 678.2,226.1 678.5,227.8 678.8,227.1 679.0,226.8 679.2,226.6 679.5,227.2 679.8,227.7 680.0,227.6 680.2,227.0 680.5,227.6 680.8,226.7 681.0,228.0 681.2,226.5 681.5,224.3 681.8,228.0 682.0,226.7 682.2,225.3 682.5,226.3 682.8,225.6 683.0,228.9 683.2,227.1 683.5,224.8 683.8,227.1 684.0,226.1 684.2,228.7 684.5,225.4 684.8,224.1 685.0,226.6 685.2,226.1 685.5,226.1 685.8,224.2 686.0,227.0 686.2,228.4 686.5,224.4 686.8,227.8 687.0,225.9 687.2,229.1 687.5,227.0 687.8,226.3 688.0,227.7 688.2,227.1 688.5,225.8 688.8,227.3 689.0,225.9 689.2,224.5 689.5,228.7 689.8,226.1 690.0,225.8 690.2,226.8 690.5,224.7 690.8,225.0 691.0,225.9 691.2,225.9 691.5,226.5 691.8,227.7 692.0,225.9 692.2,227.0 692.5,227.1 692.8,225.2 693.0,226.7 693.2,225.4 693.5,227.6 693.8,226.9 694.0,226.4 694.2,224.9 694.5,226.5 694.8,225.6 695.0,227.2 695.2,226.3 695.5,225.5"/>
<polyline stroke="#e8202e" stroke-width="1.5" points="57.5,242.1 57.8,242.1 58.0,239.9 58.2,243.8 58.5,241.3 58.8,241.7 59.0,242.9 59.2,241.6 59.5,242.6 59.8,243.5 60.0,247.3 60.2,247.6 60.5,244.5 60.8,248.6 61.0,245.7 61.2,246.9 61.5,248.3 61.8,247.5 62.0,252.0 62.2,248.1 62.5,245.7 62.8,251.0 63.0,248.0 63.2,248.6 63.5,243.7 63.8,251.8 64.0,251.8 64.2,252.1 64.5,252.8 64.8,254.6 65.0,251.6 65.2,253.8 65.5,251.0 65.8,252.1 66.0,255.1 66.2,254.2 66.5,251.2 66.8,254.8 67.0,254.1 67.2,253.2 67.5,256.0 67.8,254.7 68.0,252.8 68.2,254.0 68.5,259.8 68.8,254.0 69.0,257.6 69.2,258.7 69.5,259.1 69.8,255.9 70.0,258.0 70.2,259.2 70.5,260.8 70.8,258.5 71.0,257.9 71.2,262.2 71.5,262.8 71.8,261.8 72.0,260.3 72.2,262.5 72.5,262.3 72.8,264.0 73.0,260.4 73.2,263.3 73.5,263.1 73.8,261.6 74.0,264.4 74.2,264.3 74.5,263.8 74.8,265.5 75.0,262.5 75.2,265.2 75.5,266.3 75.8,266.3 76.0,268.0 76.2,264.0 76.5,263.7 76.8,267.0 77.0,267.6 77.2,270.8 77.5,268.2 77.8,265.6 78.0,268.7 78.2,265.8 78.5,264.8 78.8,272.3 79.0,268.2 79.2,269.0 79.5,268.7 79.8,271.0 80.0,268.3 80.2,270.0 80.5,265.9 80.8,265.3 81.0,270.3 81.2,270.4 81.5,268.6 81.8,268.0 82.0,267.8 82.2,266.1 82.5,269.9 82.8,268.1 83.0,267.6 83.2,267.0 83.5,267.8 83.8,266.3 84.0,265.9 84.2,261.4 84.5,263.0 84.8,264.0 85.0,256.5 85.2,253.7 85.5,251.0 85.8,245.5 86.0,238.1 86.2,226.4 86.5,221.6 86.8,209.7 87.0,201.8 87.2,197.1 87.5,191.1 87.8,192.0 88.0,198.9 88.2,200.6 88.5,208.5 88.8,214.6 89.0,224.1 89.2,231.8 89.5,240.4 89.8,245.9 90.0,252.1 90.2,257.2 90.5,259.2 90.8,261.1 91.0,263.2 91.2,268.0 91.5,268.6 91.8,271.3 92.0,272.2 92.2,270.6 92.5,273.2 92.8,270.3 93.0,277.6 93.2,276.4 93.5,274.6 93.8,273.6 94.0,276.9 94.2,273.5 94.5,275.9 94.8,279.1 95.0,278.3 95.2,277.6 95.5,280.4 95.8,277.2 96.0,279.7 96.2,278.6 96.5,278.2 96.8,280.7 97.0,278.4 97.2,283.6 97.5,279.5 97.8,284.2 98.0,279.0 98.2,282.1 98.5,279.2 98.8,279.1 99.0,281.9 99.2,282.9 99.5,279.7 99.8,284.1 100.0,280.8 100.2,282.6 100.5,283.1 100.8,283.6 101.0,279.6 101.2,285.6 101.5,283.9 101.8,282.4 102.0,281.4 102.2,280.4 102.5,281.1 102.8,284.5 103.0,283.0 103.2,281.8 103.5,282.9 103.8,286.6 104.0,283.5 104.2,283.1 104.5,286.5 104.8,285.1 105.0,284.5 105.2,283.4 105.5,281.9 105.8,282.6 106.0,283.9 106.2,284.4 106.5,285.5 106.8,285.9 107.0,285.4 107.2,285.5 107.5,283.5 107.8,281.6 108.0,284.5 108.2,283.8 108.5,284.4 108.8,285.1 109.0,283.5 109.2,283.8 109.5,285.6 109.8,286.0 110.0,284.8 110.2,286.8 110.5,285.7 110.8,284.4 111.0,286.2 111.2,289.4 111.5,285.1 111.8,288.3 112.0,288.7 112.2,288.8 112.5,284.9 112.8,289.6 113.0,286.3 113.2,285.5 113.5,285.4 113.8,286.6 114.0,285.4 114.2,284.8 114.5,287.1 114.8,283.7 115.0,283.2 115.2,286.4 115.5,286.6 115.8,287.6 116.0,284.4 116.2,288.5 116.5,287.9 116.8,290.5 117.0,285.8 117.2,288.6 117.5,288.0 117.8,286.1 118.0,287.8 118.2,291.1 118.5,288.6 118.8,288.3 119.0,291.2 119.2,291.5 119.5,291.7 119.8,288.9 120.0,290.2 120.2,292.2 120.5,289.5 120.8,289.5 121.0,292.3 121.2,293.7 121.5,289.3 121.8,287.1 122.0,289.1 122.2,290.0 122.5,291.6 122.8,292.9 123.0,291.8 123.2,291.0 123.5,292.6 123.8,290.9 124.0,292.5 124.2,291.7 124.5,297.3 124.8,294.4 125.0,291.8 125.2,291.6 125.5,292.7 125.8,290.8 126.0,292.5 126.2,292.6 126.5,295.4 126.8,293.3 127.0,292.9 127.2,292.1 127.5,292.5 127.8,294.4 128.0,294.3 128.2,296.6 128.5,293.8 128.8,296.7 129.0,295.5 129.2,295.1 129.5,292.0 129.8,293.2 130.0,296.6 130.2,297.8 130.5,295.9 130.8,296.9 131.0,295.1 131.2,295.2 131.5,294.8 131.8,297.6 132.0,296.6 132.2,295.8 132.5,295.7 132.8,297.2 133.0,296.9 133.2,295.1 133.5,299.3 133.8,297.0 134.0,296.7 134.2,299.2 134.5,298.5 134.8,296.8 135.0,297.9 135.2,295.3 135.5,296.1 135.8,293.6 136.0,299.3 136.2,294.3 136.5,298.5 136.8,296.2 137.0,296.0 137.2,297.3 137.5,298.1 137.8,298.7 138.0,300.7 138.2,298.4 138.5,299.3 138.8,297.0 139.0,299.2 139.2,298.3 139.5,297.3 139.8,297.9 140.0,297.9 140.2,298.3 140.5,298.5 140.8,296.9 141.0,296.3 141.2,298.5 141.5,294.2 141.8,295.6 142.0,298.7 142.2,291.5 142.5,294.5 142.8,296.5 143.0,292.7 143.2,299.7 143.5,291.7 143.8,298.6 144.0,299.2 144.2,298.7 144.5,297.4 144.8,298.7 145.0,297.1 145.2,300.2 145.5,297.3 145.8,298.9 146.0,301.1 146.2,297.9 146.5,299.3 146.8,300.2 147.0,297.9 147.2,302.0 147.5,300.8 147.8,297.9 148.0,300.3 148.2,299.2 148.5,299.4 148.8,300.7 149.0,299.5 149.2,302.2 149.5,299.6 149.8,302.4 150.0,300.8 150.2,302.3 150.5,300.1 150.8,300.2 151.0,299.2 151.2,302.0 151.5,302.7 151.8,304.6 152.0,303.3 152.2,301.7 152.5,301.0 152.8,302.0 153.0,301.4 153.2,303.8 153.5,303.0 153.8,300.2 154.0,300.5 154.2,303.8 154.5,302.2 154.8,301.4 155.0,303.6 155.2,301.2 155.5,301.4 155.8,301.1 156.0,298.8 156.2,303.3 156.5,300.0 156.8,301.1 157.0,300.8 157.2,303.2 157.5,302.0 157.8,302.1 158.0,299.5 158.2,302.0 158.5,299.8 158.8,302.7 159.0,302.8 159.2,302.2 159.5,305.4 159.8,303.1 160.0,303.2 160.2,302.5 160.5,301.9 160.8,303.8 161.0,304.0 161.2,300.2 161.5,303.9 161.8,303.0 162.0,303.7 162.2,302.9 162.5,300.2 162.8,300.2 163.0,304.9 163.2,302.4 163.5,299.7 163.8,302.4 164.0,301.2 164.2,298.8 164.5,298.0 164.8,299.0 165.0,301.8 165.2,301.2 165.5,300.7 165.8,301.3 166.0,301.6 166.2,297.1 166.5,299.6 166.8,298.4 167.0,297.2 167.2,297.7 167.5,297.5 167.8,296.2 168.0,292.8 168.2,292.3 168.5,293.6 168.8,285.3 169.0,279.9 169.2,277.7 169.5,272.0 169.8,264.6 170.0,254.5 170.2,250.1 170.5,240.2 170.8,234.2 171.0,232.2 171.2,233.3 171.5,238.1 171.8,243.9 172.0,250.2 172.2,259.5 172.5,265.8 172.8,274.0 173.0,276.6 173.2,281.5 173.5,289.4 173.8,289.3 174.0,293.6 174.2,295.8 174.5,296.7 174.8,297.9 175.0,301.6 175.2,296.1 175.5,302.0 175.8,304.6 176.0,301.4 176.2,301.7 176.5,303.1 176.8,305.1 177.0,300.6 177.2,302.8 177.5,302.6 177.8,304.0 178.0,303.6 178.2,304.5 178.5,303.0 178.8,303.9 179.0,302.9 179.2,303.1 179.5,304.1 179.8,304.2 180.0,302.8 180.2,307.2 180.5,304.7 180.8,302.9 181.0,306.9 181.2,304.2 181.5,306.3 181.8,305.6 182.0,306.2 182.2,306.2 182.5,305.2 182.8,306.3 183.0,309.5 183.2,303.1 183.5,306.8 183.8,307.5 184.0,305.3 184.2,305.0 184.5,310.6 184.8,306.8 185.0,310.7 185.2,308.5 185.5,307.9 185.8,308.7 186.0,309.0 186.2,310.0 186.5,309.0 186.8,308.7 187.0,308.8 187.2,310.8 187.5,310.1 187.8,307.4 188.0,308.1 188.2,309.7 188.5,308.3 188.8,308.8 189.0,308.0 189.2,309.2 189.5,310.3 189.8,311.3 190.0,309.9 190.2,313.2 190.5,309.9 190.8,315.0 191.0,311.8 191.2,311.1 191.5,309.6 191.8,306.1 192.0,310.3 192.2,310.8 192.5,313.5 192.8,308.5 193.0,313.6 193.2,310.4 193.5,311.9 193.8,306.9 194.0,311.0 194.2,310.3 194.5,311.9 194.8,311.1 195.0,309.2 195.2,312.4 195.5,312.1 195.8,312.0 196.0,312.6 196.2,312.8 196.5,311.1 196.8,309.1 197.0,309.1 197.2,313.3 197.5,312.3 197.8,311.4 198.0,310.6 198.2,311.3 198.5,311.3 198.8,310.8 199.0,310.3 199.2,314.6 199.5,311.7 199.8,310.5 200.0,309.4 200.2,310.3 200.5,312.5 200.8,312.6 201.0,311.1 201.2,311.5 201.5,311.0 201.8,309.8 202.0,313.4 202.2,312.0 202.5,315.2 202.8,310.3 203.0,311.2 203.2,312.8 203.5,311.0 203.8,309.3 204.0,309.9 204.2,311.5 204.5,311.8 204.8,311.0 205.0,312.6 205.2,312.4 205.5,311.1 205.8,310.3 206.0,309.3 206.2,309.7 206.5,309.3 206.8,306.9 207.0,306.5 207.2,304.6 207.5,302.9 207.8,304.1 208.0,307.7 208.2,308.2 208.5,310.9 208.8,309.4 209.0,311.2 209.2,312.2 209.5,312.0 209.8,309.7 210.0,310.4 210.2,310.9 210.5,309.1 210.8,311.3 211.0,312.0 211.2,309.6 211.5,313.2 211.8,309.5 212.0,309.3 212.2,308.9 212.5,307.7 212.8,308.7 213.0,307.3 213.2,308.8 213.5,306.0 213.8,304.6 214.0,301.8 214.2,298.3 214.5,298.4 214.8,295.3 215.0,296.2 215.2,293.1 215.5,294.4 215.8,292.3 216.0,292.4 216.2,292.0 216.5,293.2 216.8,295.5 217.0,297.7 217.2,297.1 217.5,300.9 217.8,305.9 218.0,303.4 218.2,304.6 218.5,305.2 218.8,305.0 219.0,309.9 219.2,308.9 219.5,309.8 219.8,312.6 220.0,313.9 220.2,309.0 220.5,312.2 220.8,311.7 221.0,311.5 221.2,311.8 221.5,311.1 221.8,313.7 222.0,312.2 222.2,311.9 222.5,313.3 222.8,312.9 223.0,312.2 223.2,312.1 223.5,314.3 223.8,312.5 224.0,311.6 224.2,310.5 224.5,311.3 224.8,310.2 225.0,312.0 225.2,312.3 225.5,308.8 225.8,312.0 226.0,312.9 226.2,312.2 226.5,310.6 226.8,314.0 227.0,311.0 227.2,310.2 227.5,310.5 227.8,312.1 228.0,313.6 228.2,313.9 228.5,312.5 228.8,310.4 229.0,311.2 229.2,310.9 229.5,312.0 229.8,309.6 230.0,312.4 230.2,313.3 230.5,312.1 230.8,313.0 231.0,310.9 231.2,310.2 231.5,311.4 231.8,314.1 232.0,314.0 232.2,311.7 232.5,314.3 232.8,312.0 233.0,314.8 233.2,313.2 233.5,311.8 233.8,313.7 234.0,311.3 234.2,311.1 234.5,310.3 234.8,312.9 235.0,312.5 235.2,312.4 235.5,311.9 235.8,314.8 236.0,311.9 236.2,311.5 236.5,314.5 236.8,314.7 237.0,313.1 237.2,309.9 237.5,311.6 237.8,313.5 238.0,312.5 238.2,314.9 238.5,310.4 238.8,313.5 239.0,311.5 239.2,314.4 239.5,312.3 239.8,313.9 240.0,311.4 240.2,310.2 240.5,310.7 240.8,311.4 241.0,310.8 241.2,314.2 241.5,314.5 241.8,312.9 242.0,311.0 242.2,312.4 242.5,311.7 242.8,315.0 243.0,313.4 243.2,313.7 243.5,312.5 243.8,310.1 244.0,312.1 244.2,311.7 244.5,314.0 244.8,313.7 245.0,312.4 245.2,313.1 245.5,316.2 245.8,312.4 246.0,312.6 246.2,313.7 246.5,313.0 246.8,313.5 247.0,315.0 247.2,316.9 247.5,311.7 247.8,314.4 248.0,314.5 248.2,314.4 248.5,314.3 248.8,314.1 249.0,316.2 249.2,314.1 249.5,314.6 249.8,314.9 250.0,315.1 250.2,314.7 250.5,316.5 250.8,315.1 251.0,315.4 251.2,315.1 251.5,313.7 251.8,314.0 252.0,313.8 252.2,315.7 252.5,314.4 252.8,313.9 253.0,315.9 253.2,316.4 253.5,313.0 253.8,318.2 254.0,315.8 254.2,315.7 254.5,317.5 254.8,316.0 255.0,315.1 255.2,319.3 255.5,314.5 255.8,316.0 256.0,317.4 256.2,314.6 256.5,316.1 256.8,316.9 257.0,320.0 257.2,315.1 257.5,316.4 257.8,317.5 258.0,316.7 258.2,314.8 258.5,317.3 258.8,316.9 259.0,317.4 259.2,318.5 259.5,318.4 259.8,317.5 260.0,317.4 260.2,315.4 260.5,316.8 260.8,317.4 261.0,316.5 261.2,317.3 261.5,316.0 261.8,319.5 262.0,320.5 262.2,316.8 262.5,318.0 262.8,317.1 263.0,319.4 263.2,318.2 263.5,317.7 263.8,317.3 264.0,317.9 264.2,316.3 264.5,318.8 264.8,316.8 265.0,318.7 265.2,318.1 265.5,319.6 265.8,318.0 266.0,319.6 266.2,316.8 266.5,319.1 266.8,317.9 267.0,318.6 267.2,318.4 267.5,319.7 267.8,315.4 268.0,318.9 268.2,316.3 268.5,320.3 268.8,315.7 269.0,317.2 269.2,316.2 269.5,321.2 269.8,316.9 270.0,319.0 270.2,318.1 270.5,316.3 270.8,318.5 271.0,320.0 271.2,318.8 271.5,320.5 271.8,318.7 272.0,319.3 272.2,318.7 272.5,319.9 272.8,322.2 273.0,320.0 273.2,319.8 273.5,318.7 273.8,318.5 274.0,321.8 274.2,318.1 274.5,318.4 274.8,319.7 275.0,319.3 275.2,322.8 275.5,316.5 275.8,320.6 276.0,321.1 276.2,318.5 276.5,319.3 276.8,320.9 277.0,322.7 277.2,319.0 277.5,318.1 277.8,321.9 278.0,322.8 278.2,320.1 278.5,317.4 278.8,322.8 279.0,320.5 279.2,322.5 279.5,320.8 279.8,320.4 280.0,320.3 280.2,323.2 280.5,323.2 280.8,318.0 281.0,319.8 281.2,323.8 281.5,320.7 281.8,319.3 282.0,321.3 282.2,321.2 282.5,321.3 282.8,320.8 283.0,321.1 283.2,320.9 283.5,322.1 283.8,320.5 284.0,321.3 284.2,321.5 284.5,323.7 284.8,322.4 285.0,321.7 285.2,322.7 285.5,322.5 285.8,323.6 286.0,322.8 286.2,324.7 286.5,324.1 286.8,322.1 287.0,321.6 287.2,323.5 287.5,323.0 287.8,322.2 288.0,320.2 288.2,319.7 288.5,322.9 288.8,323.6 289.0,323.7 289.2,320.7 289.5,324.1 289.8,321.9 290.0,323.2 290.2,323.3 290.5,321.6 290.8,321.9 291.0,319.8 291.2,321.5 291.5,320.3 291.8,323.6 292.0,323.1 292.2,324.3 292.5,323.6 292.8,322.2 293.0,323.6 293.2,322.6 293.5,324.1 293.8,323.7 294.0,321.9 294.2,323.3 294.5,323.4 294.8,323.0 295.0,324.7 295.2,325.9 295.5,323.0 295.8,323.0 296.0,320.3 296.2,323.4 296.5,323.0 296.8,320.6 297.0,324.1 297.2,324.6 297.5,322.7 297.8,323.3 298.0,322.5 298.2,325.0 298.5,321.8 298.8,323.5 299.0,326.8 299.2,324.1 299.5,324.8 299.8,323.9 300.0,322.5 300.2,324.2 300.5,324.8 300.8,322.8 301.0,324.8 301.2,326.1 301.5,325.9 301.8,322.2 302.0,323.1 302.2,322.2 302.5,326.1 302.8,325.5 303.0,325.6 303.2,323.4 303.5,323.0 303.8,324.8 304.0,324.9 304.2,323.6 304.5,325.0 304.8,325.8 305.0,325.2 305.2,323.5 305.5,322.0 305.8,324.7 306.0,325.3 306.2,324.7 306.5,324.5 306.8,324.2 307.0,326.2 307.2,325.2 307.5,325.5 307.8,323.9 308.0,324.5 308.2,325.6 308.5,324.0 308.8,323.7 309.0,325.1 309.2,327.3 309.5,325.9 309.8,327.7 310.0,325.5 310.2,325.3 310.5,323.8 310.8,325.0 311.0,327.9 311.2,326.4 311.5,327.0 311.8,327.0 312.0,326.0 312.2,325.8 312.5,326.3 312.8,327.1 313.0,326.8 313.2,326.9 313.5,326.5 313.8,325.2 314.0,326.0 314.2,325.0 314.5,327.8 314.8,323.5 315.0,326.2 315.2,329.9 315.5,326.1 315.8,325.0 316.0,326.6 316.2,328.5 316.5,326.5 316.8,327.7 317.0,327.0 317.2,326.3 317.5,331.4 317.8,327.0 318.0,326.2 318.2,326.3 318.5,327.6 318.8,327.7 319.0,328.2 319.2,327.4 319.5,325.2 319.8,328.0 320.0,326.9 320.2,326.9 320.5,325.3 320.8,326.6 321.0,326.4 321.2,327.5 321.5,325.5 321.8,327.7 322.0,327.8 322.2,326.1 322.5,326.8 322.8,326.5 323.0,329.1 323.2,324.3 323.5,327.4 323.8,325.6 324.0,327.3 324.2,329.2 324.5,327.1 324.8,328.3 325.0,326.9 325.2,330.9 325.5,329.5 325.8,329.8 326.0,326.4 326.2,326.7 326.5,329.9 326.8,328.1 327.0,328.0 327.2,328.9 327.5,326.7 327.8,329.6 328.0,328.6 328.2,329.3 328.5,327.7 328.8,329.4 329.0,327.7 329.2,330.1 329.5,330.4 329.8,330.1 330.0,329.6 330.2,329.8 330.5,325.1 330.8,330.1 331.0,328.6 331.2,329.2 331.5,328.7 331.8,327.1 332.0,328.4 332.2,330.1 332.5,331.2 332.8,328.4 333.0,328.0 333.2,331.3 333.5,328.1 333.8,332.3 334.0,329.5 334.2,328.2 334.5,330.8 334.8,331.9 335.0,327.5 335.2,331.7 335.5,329.2 335.8,331.7 336.0,329.1 336.2,327.5 336.5,330.4 336.8,331.0 337.0,332.7 337.2,332.2 337.5,330.8 337.8,329.5 338.0,329.1 338.2,329.5 338.5,328.8 338.8,329.6 339.0,326.4 339.2,330.3 339.5,330.0 339.8,333.7 340.0,331.2 340.2,329.4 340.5,330.9 340.8,328.4 341.0,329.3 341.2,327.6 341.5,332.2 341.8,331.1 342.0,328.6 342.2,330.2 342.5,331.7 342.8,331.0 343.0,330.9 343.2,329.2 343.5,329.5 343.8,330.6 344.0,331.7 344.2,329.3 344.5,328.9 344.8,332.1 345.0,329.2 345.2,332.1 345.5,330.9 345.8,331.8 346.0,333.0 346.2,331.6 346.5,331.7 346.8,329.4 347.0,329.7 347.2,331.6 347.5,332.9 347.8,332.7 348.0,334.0 348.2,331.2 348.5,331.1 348.8,332.2 349.0,330.8 349.2,330.7 349.5,329.4 349.8,332.2 350.0,329.4 350.2,331.6 350.5,328.9 350.8,332.4 351.0,329.5 351.2,332.1 351.5,328.8 351.8,330.4 352.0,332.6 352.2,329.9 352.5,331.1 352.8,330.4 353.0,327.8 353.2,331.5 353.5,331.7 353.8,329.5 354.0,331.9 354.2,330.0 354.5,329.7 354.8,331.1 355.0,330.2 355.2,334.3 355.5,329.0 355.8,332.2 356.0,332.6 356.2,328.5 356.5,328.8 356.8,332.0 357.0,330.6 357.2,331.8 357.5,332.8 357.8,330.7 358.0,329.8 358.2,327.5 358.5,331.6 358.8,330.0 359.0,331.7 359.2,331.6 359.5,329.4 359.8,333.7 360.0,332.8 360.2,332.5 360.5,329.7 360.8,330.8 361.0,330.6 361.2,330.8 361.5,329.8 361.8,331.9 362.0,331.6 362.2,331.8 362.5,330.6 362.8,333.1 363.0,331.5 363.2,327.5 363.5,330.4 363.8,331.2 364.0,332.6 364.2,330.8 364.5,330.8 364.8,330.2 365.0,332.0 365.2,330.4 365.5,330.1 365.8,329.9 366.0,331.6 366.2,330.0 366.5,328.3 366.8,331.4 367.0,329.5 367.2,330.8 367.5,330.6 367.8,331.5 368.0,331.0 368.2,328.4 368.5,328.4 368.8,326.2 369.0,329.5 369.2,326.8 369.5,326.8 369.8,322.8 370.0,318.4 370.2,321.0 370.5,316.3 370.8,313.2 371.0,309.7 371.2,306.8 371.5,303.0 371.8,296.5 372.0,297.2 372.2,292.7 372.5,291.6 372.8,294.8 373.0,295.2 373.2,296.0 373.5,297.2 373.8,303.6 374.0,308.0 374.2,310.8 374.5,312.7 374.8,316.5 375.0,318.6 375.2,323.0 375.5,325.8 375.8,327.7 376.0,326.6 376.2,329.0 376.5,330.3 376.8,329.5 377.0,330.5 377.2,334.1 377.5,331.8 377.8,333.0 378.0,331.4 378.2,332.3 378.5,330.0 378.8,332.5 379.0,334.3 379.2,335.7 379.5,334.6 379.8,334.0 380.0,333.2 380.2,332.4 380.5,333.1 380.8,334.2 381.0,332.3 381.2,334.8 381.5,332.2 381.8,331.2 382.0,332.3 382.2,331.4 382.5,331.9 382.8,335.3 383.0,333.6 383.2,334.2 383.5,335.5 383.8,335.7 384.0,333.3 384.2,335.8 384.5,334.6 384.8,334.1 385.0,334.7 385.2,332.2 385.5,333.1 385.8,334.0 386.0,335.0 386.2,333.7 386.5,334.1 386.8,335.6 387.0,336.2 387.2,335.3 387.5,336.0 387.8,333.8 388.0,333.9 388.2,334.8 388.5,334.0 388.8,333.7 389.0,336.7 389.2,334.1 389.5,333.1 389.8,335.1 390.0,337.0 390.2,334.6 390.5,336.2 390.8,333.9 391.0,333.8 391.2,333.6 391.5,334.3 391.8,337.1 392.0,333.0 392.2,336.8 392.5,333.2 392.8,334.3 393.0,335.7 393.2,335.5 393.5,335.0 393.8,332.4 394.0,335.1 394.2,333.2 394.5,338.2 394.8,334.4 395.0,334.9 395.2,333.1 395.5,334.0 395.8,332.9 396.0,336.1 396.2,334.4 396.5,335.5 396.8,333.8 397.0,334.1 397.2,336.5 397.5,333.4 397.8,332.3 398.0,335.3 398.2,333.2 398.5,334.2 398.8,336.0 399.0,333.6 399.2,336.0 399.5,333.8 399.8,336.8 400.0,336.5 400.2,334.1 400.5,334.4 400.8,333.5 401.0,334.9 401.2,336.1 401.5,332.5 401.8,335.6 402.0,332.4 402.2,332.8 402.5,331.4 402.8,336.4 403.0,333.3 403.2,333.2 403.5,331.6 403.8,333.5 404.0,328.7 404.2,331.2 404.5,333.7 404.8,329.7 405.0,329.9 405.2,330.5 405.5,328.4 405.8,329.5 406.0,331.0 406.2,330.3 406.5,330.9 406.8,330.4 407.0,331.8 407.2,332.0 407.5,334.4 407.8,333.9 408.0,333.0 408.2,330.3 408.5,335.0 408.8,335.3 409.0,333.3 409.2,332.0 409.5,333.3 409.8,336.3 410.0,333.7 410.2,334.6 410.5,335.6 410.8,337.1 411.0,335.4 411.2,335.4 411.5,334.8 411.8,337.8 412.0,337.1 412.2,335.6 412.5,333.8 412.8,334.7 413.0,336.6 413.2,334.8 413.5,337.1 413.8,336.4 414.0,336.3 414.2,336.8 414.5,336.6 414.8,334.8 415.0,335.6 415.2,339.2 415.5,334.4 415.8,335.4 416.0,337.5 416.2,335.9 416.5,335.0 416.8,334.4 417.0,336.9 417.2,337.6 417.5,338.1 417.8,336.3 418.0,337.7 418.2,334.9 418.5,336.5 418.8,335.4 419.0,336.6 419.2,337.4 419.5,337.8 419.8,335.1 420.0,338.1 420.2,335.8 420.5,335.1 420.8,336.2 421.0,334.5 421.2,336.5 421.5,336.9 421.8,336.3 422.0,337.3 422.2,336.2 422.5,336.6 422.8,334.7 423.0,336.7 423.2,335.5 423.5,336.1 423.8,336.6 424.0,337.0 424.2,334.5 424.5,334.6 424.8,336.3 425.0,337.4 425.2,337.3 425.5,338.0 425.8,338.6 426.0,337.5 426.2,336.8 426.5,335.5 426.8,335.6 427.0,336.2 427.2,337.3 427.5,337.2 427.8,336.9 428.0,336.7 428.2,337.8 428.5,337.2 428.8,337.4 429.0,337.4 429.2,336.3 429.5,335.6 429.8,337.7 430.0,337.6 430.2,336.8 430.5,336.5 430.8,340.2 431.0,336.1 431.2,336.8 431.5,337.5 431.8,335.6 432.0,337.3 432.2,339.6 432.5,338.4 432.8,338.0 433.0,338.0 433.2,337.4 433.5,338.5 433.8,337.0 434.0,336.7 434.2,337.4 434.5,338.5 434.8,337.7 435.0,338.2 435.2,334.6 435.5,338.9 435.8,340.5 436.0,339.1 436.2,336.9 436.5,336.2 436.8,337.7 437.0,336.0 437.2,338.3 437.5,336.6 437.8,338.6 438.0,339.2 438.2,334.6 438.5,337.7 438.8,336.4 439.0,335.4 439.2,336.4 439.5,336.9 439.8,338.5 440.0,335.0 440.2,338.4 440.5,339.6 440.8,337.6 441.0,337.4 441.2,336.5 441.5,334.8 441.8,336.9 442.0,336.6 442.2,336.9 442.5,339.3 442.8,336.8 443.0,336.3 443.2,337.9 443.5,334.1 443.8,334.5 444.0,335.7 444.2,335.5 444.5,337.5 444.8,336.3 445.0,339.2 445.2,339.1 445.5,338.2 445.8,336.8 446.0,338.3 446.2,338.6 446.5,336.2 446.8,338.1 447.0,338.7 447.2,338.1 447.5,340.0 447.8,339.5 448.0,336.8 448.2,338.1 448.5,336.8 448.8,338.8 449.0,336.9 449.2,339.3 449.5,338.6 449.8,339.4 450.0,337.9 450.2,336.2 450.5,340.5 450.8,337.9 451.0,340.0 451.2,338.8 451.5,339.1 451.8,340.7 452.0,338.7 452.2,340.2 452.5,336.3 452.8,339.5 453.0,338.0 453.2,338.2 453.5,338.4 453.8,338.9 454.0,340.7 454.2,336.0 454.5,338.5 454.8,337.5 455.0,340.1 455.2,338.0 455.5,339.2 455.8,338.0 456.0,339.5 456.2,340.0 456.5,338.1 456.8,338.7 457.0,336.8 457.2,339.1 457.5,339.9 457.8,338.0 458.0,340.3 458.2,336.0 458.5,336.3 458.8,337.0 459.0,338.2 459.2,338.9 459.5,338.8 459.8,338.8 460.0,339.9 460.2,338.3 460.5,337.3 460.8,337.3 461.0,341.9 461.2,335.9 461.5,338.8 461.8,341.1 462.0,339.8 462.2,338.0 462.5,339.2 462.8,340.4 463.0,340.8 463.2,338.1 463.5,340.3 463.8,339.6 464.0,340.8 464.2,341.2 464.5,338.9 464.8,337.5 465.0,340.0 465.2,341.8 465.5,340.4 465.8,339.8 466.0,342.8 466.2,338.2 466.5,340.8 466.8,338.9 467.0,339.8 467.2,339.9 467.5,341.8 467.8,338.6 468.0,339.2 468.2,337.8 468.5,340.7 468.8,339.5 469.0,340.7 469.2,338.7 469.5,339.8 469.8,341.7 470.0,340.1 470.2,341.2 470.5,341.2 470.8,340.1 471.0,338.5 471.2,342.0 471.5,340.9 471.8,342.1 472.0,338.2 472.2,338.7 472.5,338.1 472.8,339.9 473.0,342.5 473.2,341.9 473.5,341.2 473.8,341.4 474.0,342.3 474.2,341.0 474.5,342.0 474.8,341.7 475.0,338.7 475.2,341.1 475.5,343.4 475.8,341.2 476.0,341.6 476.2,341.0 476.5,341.2 476.8,343.4 477.0,341.6 477.2,340.6 477.5,337.9 477.8,341.3 478.0,339.5 478.2,339.7 478.5,343.2 478.8,343.1 479.0,339.6 479.2,343.3 479.5,342.8 479.8,341.2 480.0,343.1 480.2,340.0 480.5,340.6 480.8,340.2 481.0,340.6 481.2,343.2 481.5,340.2 481.8,340.3 482.0,340.5 482.2,341.8 482.5,340.9 482.8,342.2 483.0,339.8 483.2,338.7 483.5,339.3 483.8,339.6 484.0,337.8 484.2,338.8 484.5,340.2 484.8,336.4 485.0,336.7 485.2,338.0 485.5,335.0 485.8,334.5 486.0,334.2 486.2,336.3 486.5,336.9 486.8,336.5 487.0,337.3 487.2,339.6 487.5,339.7 487.8,337.3 488.0,339.7 488.2,340.4 488.5,341.7 488.8,340.9 489.0,340.7 489.2,341.2 489.5,339.8 489.8,342.3 490.0,341.7 490.2,343.2 490.5,341.4 490.8,342.3 491.0,341.6 491.2,341.6 491.5,344.0 491.8,342.5 492.0,343.7 492.2,341.7 492.5,343.4 492.8,341.1 493.0,342.7 493.2,342.7 493.5,344.1 493.8,343.6 494.0,343.2 494.2,344.5 494.5,343.7 494.8,344.2 495.0,344.5 495.2,343.5 495.5,343.2 495.8,344.0 496.0,343.1 496.2,344.1 496.5,345.1 496.8,344.8 497.0,343.2 497.2,342.0 497.5,343.6 497.8,343.6 498.0,345.2 498.2,343.3 498.5,343.5 498.8,344.7 499.0,343.2 499.2,343.6 499.5,346.1 499.8,345.8 500.0,344.7 500.2,344.2 500.5,342.6 500.8,344.6 501.0,344.0 501.2,344.2 501.5,343.2 501.8,343.9 502.0,343.7 502.2,344.4 502.5,345.8 502.8,344.4 503.0,341.8 503.2,342.7 503.5,341.9 503.8,343.0 504.0,344.7 504.2,344.5 504.5,343.2 504.8,344.4 505.0,343.0 505.2,342.2 505.5,342.2 505.8,342.9 506.0,345.9 506.2,342.3 506.5,345.7 506.8,345.8 507.0,343.8 507.2,344.0 507.5,343.3 507.8,344.1 508.0,345.0 508.2,344.1 508.5,345.4 508.8,345.7 509.0,344.6 509.2,344.5 509.5,344.0 509.8,344.6 510.0,342.7 510.2,344.7 510.5,344.4 510.8,343.0 511.0,346.9 511.2,342.9 511.5,343.0 511.8,344.5 512.0,341.6 512.2,343.1 512.5,342.2 512.8,342.9 513.0,344.0 513.2,344.6 513.5,345.6 513.8,345.2 514.0,345.7 514.2,344.9 514.5,343.5 514.8,345.6 515.0,343.5 515.2,343.3 515.5,346.1 515.8,345.1 516.0,344.4 516.2,345.0 516.5,345.2 516.8,342.3 517.0,343.9 517.2,342.5 517.5,344.1 517.8,343.1 518.0,345.7 518.2,344.5 518.5,342.7 518.8,343.7 519.0,342.0 519.2,343.5 519.5,344.0 519.8,343.4 520.0,340.3 520.2,342.1 520.5,342.9 520.8,342.2 521.0,342.8 521.2,339.1 521.5,340.9 521.8,338.7 522.0,339.2 522.2,338.8 522.5,338.5 522.8,336.4 523.0,337.0 523.2,335.0 523.5,334.6 523.8,337.4 524.0,337.0 524.2,335.4 524.5,337.0 524.8,338.8 525.0,341.5 525.2,341.4 525.5,341.7 525.8,338.9 526.0,341.6 526.2,342.8 526.5,343.0 526.8,343.3 527.0,342.7 527.2,345.5 527.5,345.3 527.8,343.4 528.0,342.4 528.2,346.4 528.5,343.0 528.8,345.3 529.0,346.3 529.2,342.6 529.5,344.2 529.8,343.3 530.0,344.4 530.2,344.0 530.5,346.0 530.8,344.1 531.0,343.2 531.2,344.4 531.5,342.3 531.8,341.9 532.0,344.9 532.2,340.5 532.5,340.5 532.8,340.8 533.0,338.8 533.2,337.0 533.5,340.7 533.8,337.9 534.0,338.0 534.2,338.1 534.5,337.4 534.8,337.5 535.0,339.4 535.2,342.8 535.5,341.1 535.8,341.6 536.0,339.2 536.2,341.6 536.5,340.5 536.8,343.4 537.0,342.5 537.2,343.1 537.5,343.2 537.8,342.8 538.0,341.8 538.2,344.7 538.5,342.2 538.8,342.6 539.0,343.8 539.2,343.4 539.5,344.7 539.8,345.7 540.0,344.8 540.2,344.7 540.5,344.5 540.8,345.6 541.0,342.1 541.2,345.0 541.5,343.4 541.8,343.0 542.0,344.6 542.2,344.1 542.5,345.4 542.8,346.1 543.0,341.6 543.2,344.6 543.5,347.2 543.8,345.8 544.0,346.6 544.2,344.8 544.5,342.9 544.8,343.3 545.0,345.7 545.2,346.0 545.5,343.8 545.8,344.4 546.0,345.1 546.2,342.5 546.5,344.3 546.8,346.9 547.0,347.6 547.2,344.6 547.5,347.2 547.8,344.1 548.0,343.7 548.2,341.9 548.5,346.1 548.8,344.3 549.0,347.9 549.2,345.3 549.5,345.1 549.8,342.5 550.0,346.8 550.2,344.4 550.5,344.6 550.8,342.0 551.0,346.0 551.2,346.1 551.5,344.1 551.8,345.0 552.0,345.4 552.2,346.1 552.5,345.0 552.8,347.1 553.0,344.5 553.2,344.1 553.5,344.3 553.8,341.6 554.0,343.8 554.2,346.2 554.5,345.2 554.8,343.8 555.0,345.3 555.2,342.2 555.5,344.5 555.8,345.6 556.0,345.8 556.2,343.9 556.5,346.1 556.8,347.3 557.0,344.3 557.2,345.8 557.5,342.9 557.8,342.3 558.0,345.7 558.2,344.9 558.5,345.1 558.8,344.1 559.0,344.5 559.2,345.9 559.5,347.1 559.8,344.6 560.0,342.7 560.2,346.5 560.5,345.7 560.8,345.8 561.0,345.1 561.2,347.9 561.5,345.0 561.8,345.6 562.0,342.5 562.2,344.1 562.5,344.0 562.8,344.9 563.0,345.3 563.2,343.9 563.5,347.1 563.8,343.5 564.0,344.3 564.2,345.2 564.5,343.3 564.8,345.6 565.0,345.7 565.2,344.5 565.5,347.4 565.8,345.0 566.0,345.3 566.2,343.6 566.5,342.7 566.8,344.1 567.0,344.5 567.2,344.3 567.5,345.9 567.8,341.8 568.0,343.4 568.2,342.5 568.5,346.6 568.8,344.2 569.0,344.2 569.2,343.5 569.5,346.1 569.8,344.4 570.0,345.2 570.2,342.3 570.5,346.4 570.8,345.4 571.0,345.6 571.2,346.5 571.5,344.6 571.8,344.7 572.0,345.8 572.2,345.5 572.5,344.6 572.8,345.0 573.0,344.2 573.2,345.8 573.5,346.1 573.8,344.9 574.0,347.3 574.2,342.9 574.5,344.6 574.8,347.1 575.0,344.3 575.2,342.8 575.5,346.7 575.8,345.6 576.0,343.3 576.2,345.9 576.5,343.6 576.8,343.2 577.0,344.7 577.2,344.3 577.5,343.5 577.8,344.4 578.0,343.6 578.2,345.0 578.5,344.9 578.8,345.9 579.0,344.3 579.2,343.2 579.5,343.2 579.8,344.6 580.0,346.9 580.2,346.0 580.5,344.1 580.8,346.1 581.0,343.4 581.2,346.2 581.5,344.4 581.8,345.9 582.0,345.7 582.2,344.5 582.5,345.3 582.8,343.5 583.0,344.8 583.2,346.3 583.5,350.2 583.8,345.8 584.0,345.0 584.2,343.5 584.5,346.2 584.8,342.7 585.0,343.8 585.2,345.3 585.5,343.3 585.8,346.9 586.0,346.3 586.2,344.1 586.5,344.1 586.8,343.1 587.0,343.0 587.2,345.4 587.5,345.6 587.8,345.3 588.0,345.2 588.2,344.1 588.5,345.3 588.8,342.9 589.0,344.8 589.2,346.7 589.5,346.5 589.8,344.2 590.0,344.3 590.2,346.6 590.5,347.1 590.8,342.8 591.0,344.2 591.2,345.0 591.5,346.3 591.8,343.6 592.0,345.5 592.2,344.2 592.5,347.7 592.8,345.1 593.0,344.3 593.2,344.0 593.5,345.7 593.8,345.1 594.0,342.7 594.2,344.3 594.5,342.1 594.8,342.6 595.0,341.6 595.2,341.3 595.5,341.8 595.8,341.1 596.0,342.7 596.2,342.6 596.5,340.8 596.8,339.3 597.0,341.5 597.2,337.5 597.5,337.5 597.8,340.9 598.0,340.9 598.2,341.5 598.5,340.3 598.8,339.3 599.0,340.6 599.2,342.5 599.5,341.1 599.8,341.6 600.0,341.0 600.2,341.6 600.5,344.5 600.8,344.3 601.0,342.4 601.2,342.6 601.5,343.4 601.8,345.0 602.0,342.9 602.2,344.2 602.5,341.7 602.8,342.9 603.0,345.1 603.2,345.8 603.5,343.1 603.8,343.7 604.0,345.7 604.2,344.2 604.5,344.0 604.8,345.4 605.0,345.0 605.2,346.2 605.5,345.8 605.8,344.0 606.0,344.6 606.2,344.7 606.5,343.0 606.8,343.5 607.0,346.1 607.2,342.8 607.5,346.1 607.8,345.2 608.0,344.7 608.2,345.5 608.5,345.5 608.8,346.4 609.0,344.3 609.2,344.6 609.5,344.5 609.8,347.3 610.0,346.1 610.2,343.7 610.5,344.4 610.8,344.0 611.0,344.9 611.2,345.2 611.5,347.9 611.8,342.5 612.0,346.2 612.2,345.5 612.5,344.0 612.8,344.7 613.0,344.2 613.2,345.0 613.5,346.2 613.8,342.9 614.0,346.6 614.2,344.4 614.5,346.9 614.8,345.4 615.0,346.5 615.2,345.6 615.5,346.3 615.8,345.0 616.0,343.8 616.2,345.8 616.5,345.8 616.8,347.7 617.0,342.3 617.2,344.7 617.5,346.3 617.8,343.3 618.0,344.6 618.2,347.7 618.5,346.8 618.8,343.8 619.0,346.8 619.2,346.5 619.5,345.9 619.8,345.4 620.0,345.2 620.2,343.8 620.5,344.3 620.8,345.9 621.0,345.1 621.2,347.3 621.5,344.5 621.8,341.8 622.0,344.5 622.2,345.3 622.5,345.4 622.8,345.0 623.0,343.9 623.2,346.9 623.5,344.1 623.8,345.9 624.0,344.6 624.2,343.4 624.5,346.8 624.8,341.7 625.0,343.8 625.2,345.5 625.5,344.5 625.8,345.9 626.0,344.8 626.2,344.4 626.5,347.8 626.8,344.7 627.0,344.7 627.2,343.5 627.5,344.0 627.8,345.8 628.0,345.7 628.2,345.0 628.5,344.0 628.8,345.8 629.0,342.7 629.2,344.5 629.5,344.6 629.8,343.9 630.0,345.2 630.2,344.1 630.5,343.9 630.8,347.3 631.0,345.9 631.2,346.5 631.5,345.0 631.8,346.2 632.0,346.0 632.2,346.5 632.5,348.0 632.8,344.7 633.0,345.3 633.2,344.9 633.5,340.4 633.8,343.2 634.0,345.0 634.2,345.8 634.5,344.2 634.8,346.4 635.0,346.6 635.2,344.4 635.5,346.8 635.8,347.3 636.0,345.6 636.2,343.7 636.5,346.9 636.8,344.8 637.0,344.5 637.2,345.1 637.5,344.3 637.8,346.4 638.0,346.0 638.2,346.6 638.5,345.7 638.8,343.9 639.0,344.8 639.2,346.1 639.5,344.5 639.8,348.8 640.0,344.7 640.2,344.2 640.5,346.5 640.8,346.0 641.0,344.9 641.2,344.7 641.5,345.5 641.8,346.1 642.0,346.0 642.2,344.6 642.5,345.5 642.8,346.1 643.0,346.0 643.2,341.0 643.5,343.8 643.8,344.0 644.0,344.7 644.2,345.2 644.5,346.2 644.8,345.8 645.0,344.8 645.2,345.0 645.5,347.3 645.8,344.2 646.0,345.4 646.2,347.0 646.5,345.4 646.8,342.3 647.0,345.5 647.2,344.5 647.5,344.8 647.8,346.3 648.0,345.6 648.2,344.6 648.5,346.1 648.8,345.5 649.0,345.1 649.2,345.4 649.5,345.3 649.8,344.5 650.0,344.4 650.2,345.0 650.5,343.7 650.8,343.3 651.0,346.7 651.2,344.7 651.5,344.9 651.8,344.8 652.0,345.0 652.2,345.0 652.5,345.1 652.8,343.9 653.0,346.2 653.2,344.1 653.5,346.3 653.8,342.5 654.0,343.6 654.2,346.3 654.5,344.8 654.8,344.1 655.0,345.5 655.2,343.6 655.5,345.1 655.8,342.1 656.0,344.4 656.2,344.1 656.5,345.7 656.8,346.1 657.0,343.9 657.2,347.1 657.5,344.2 657.8,342.3 658.0,341.9 658.2,347.0 658.5,344.9 658.8,344.1 659.0,344.0 659.2,343.5 659.5,346.7 659.8,344.9 660.0,347.3 660.2,344.7 660.5,341.9 660.8,346.1 661.0,344.5 661.2,344.7 661.5,347.0 661.8,344.6 662.0,346.5 662.2,345.0 662.5,344.0 662.8,345.6 663.0,344.2 663.2,346.5 663.5,346.2 663.8,345.0 664.0,345.7 664.2,345.7 664.5,344.6 664.8,346.1 665.0,344.6 665.2,345.7 665.5,343.7 665.8,345.1 666.0,345.5 666.2,343.9 666.5,344.4 666.8,344.2 667.0,345.9 667.2,344.0 667.5,345.5 667.8,346.9 668.0,345.4 668.2,342.8 668.5,345.1 668.8,346.3 669.0,344.5 669.2,346.3 669.5,345.7 669.8,345.4 670.0,344.6 670.2,344.2 670.5,344.6 670.8,345.0 671.0,345.6 671.2,345.4 671.5,344.5 671.8,344.9 672.0,345.3 672.2,342.7 672.5,343.8 672.8,343.8 673.0,344.5 673.2,344.4 673.5,344.4 673.8,343.6 674.0,345.6 674.2,345.1 674.5,342.5 674.8,344.7 675.0,343.2 675.2,346.8 675.5,343.9 675.8,343.9 676.0,344.5 676.2,344.0 676.5,344.0 676.8,346.0 677.0,344.0 677.2,344.6 677.5,344.7 677.8,341.6 678.0,344.7 678.2,343.0 678.5,342.9 678.8,340.0 679.0,341.7 679.2,340.7 679.5,339.0 679.8,342.4 680.0,339.9 680.2,338.7 680.5,339.3 680.8,340.5 681.0,341.1 681.2,340.8 681.5,342.1 681.8,342.9 682.0,339.9 682.2,341.3 682.5,341.1 682.8,342.9 683.0,345.0 683.2,344.3 683.5,342.3 683.8,343.5 684.0,345.4 684.2,343.5 684.5,344.2 684.8,344.8 685.0,342.1 685.2,345.6 685.5,345.1 685.8,345.4 686.0,343.4 686.2,343.7 686.5,344.0 686.8,345.1 687.0,344.9 687.2,345.0 687.5,347.1 687.8,346.5 688.0,343.9 688.2,344.0 688.5,347.1 688.8,344.5 689.0,346.7 689.2,347.0 689.5,344.2 689.8,344.5 690.0,345.0 690.2,343.8 690.5,343.6 690.8,344.4 691.0,346.0 691.2,344.3 691.5,344.7 691.8,344.3 692.0,343.2 692.2,346.9 692.5,341.9 692.8,344.1 693.0,345.7 693.2,343.1 693.5,345.7 693.8,346.6 694.0,343.8 694.2,345.2 694.5,343.5 694.8,345.6 695.0,345.1 695.2,345.2 695.5,346.7"/>
<polyline stroke="#000" stroke-width="1.6" points="57.5,360.7 57.8,361.8 58.0,359.8 58.2,355.5 58.5,357.8 58.8,357.7 59.0,353.3 59.2,358.4 59.5,355.5 59.8,355.8 60.0,353.2 60.2,355.3 60.5,356.1 60.8,355.4 61.0,356.9 61.2,353.3 61.5,361.1 61.8,357.0 62.0,355.8 62.2,359.2 62.5,360.3 62.8,363.9 63.0,361.9 63.2,365.1 63.5,363.4 63.8,370.3 64.0,367.7 64.2,371.1 64.5,365.9 64.8,369.7 65.0,367.0 65.2,370.4 65.5,371.1 65.8,367.1 66.0,368.4 66.2,368.8 66.5,368.5 66.8,370.4 67.0,370.4 67.2,369.9 67.5,373.3 67.8,374.6 68.0,371.4 68.2,373.2 68.5,374.7 68.8,374.7 69.0,374.2 69.2,377.5 69.5,377.9 69.8,378.0 70.0,376.6 70.2,381.3 70.5,381.1 70.8,377.4 71.0,378.3 71.2,381.1 71.5,377.6 71.8,380.3 72.0,380.0 72.2,378.9 72.5,380.2 72.8,378.1 73.0,380.4 73.2,378.0 73.5,386.6 73.8,385.6 74.0,385.4 74.2,384.1 74.5,385.8 74.8,386.7 75.0,386.6 75.2,386.8 75.5,383.6 75.8,386.6 76.0,385.1 76.2,384.2 76.5,384.6 76.8,387.8 77.0,389.3 77.2,385.0 77.5,391.1 77.8,390.8 78.0,387.5 78.2,387.5 78.5,388.4 78.8,390.5 79.0,388.0 79.2,386.6 79.5,389.4 79.8,384.9 80.0,389.0 80.2,391.0 80.5,389.4 80.8,390.3 81.0,389.7 81.2,390.2 81.5,389.1 81.8,387.2 82.0,388.4 82.2,388.7 82.5,391.2 82.8,391.9 83.0,389.6 83.2,387.4 83.5,387.5 83.8,388.5 84.0,391.5 84.2,389.5 84.5,388.8 84.8,387.4 85.0,390.5 85.2,389.4 85.5,388.8 85.8,389.1 86.0,392.1 86.2,388.6 86.5,392.1 86.8,391.3 87.0,389.0 87.2,390.6 87.5,388.7 87.8,387.4 88.0,388.5 88.2,387.4 88.5,390.2 88.8,389.4 89.0,390.6 89.2,391.3 89.5,384.0 89.8,390.7 90.0,387.0 90.2,391.0 90.5,389.3 90.8,391.5 91.0,394.2 91.2,388.8 91.5,392.7 91.8,392.6 92.0,389.6 92.2,394.8 92.5,394.0 92.8,393.4 93.0,393.5 93.2,401.2 93.5,394.9 93.8,392.8 94.0,394.8 94.2,396.3 94.5,396.7 94.8,397.7 95.0,396.3 95.2,399.7 95.5,398.2 95.8,397.0 96.0,398.4 96.2,399.6 96.5,402.3 96.8,402.0 97.0,400.8 97.2,401.8 97.5,402.5 97.8,406.1 98.0,401.5 98.2,403.7 98.5,404.5 98.8,401.6 99.0,403.9 99.2,404.0 99.5,403.0 99.8,405.1 100.0,406.1 100.2,406.4 100.5,404.2 100.8,405.0 101.0,409.1 101.2,402.9 101.5,405.5 101.8,406.9 102.0,405.7 102.2,406.7 102.5,406.0 102.8,407.2 103.0,408.3 103.2,405.6 103.5,406.5 103.8,406.2 104.0,405.7 104.2,406.5 104.5,404.6 104.8,408.1 105.0,410.0 105.2,410.1 105.5,409.4 105.8,405.4 106.0,410.1 106.2,406.1 106.5,407.4 106.8,411.0 107.0,405.8 107.2,409.3 107.5,408.4 107.8,407.7 108.0,406.5 108.2,409.0 108.5,407.5 108.8,410.3 109.0,410.8 109.2,406.1 109.5,407.8 109.8,408.3 110.0,406.8 110.2,407.1 110.5,409.4 110.8,408.9 111.0,406.4 111.2,408.6 111.5,410.6 111.8,407.6 112.0,408.2 112.2,412.9 112.5,412.5 112.8,407.3 113.0,408.0 113.2,411.2 113.5,408.5 113.8,410.3 114.0,410.1 114.2,412.1 114.5,406.6 114.8,407.3 115.0,409.2 115.2,413.4 115.5,411.4 115.8,408.8 116.0,412.9 116.2,413.4 116.5,411.8 116.8,411.8 117.0,413.3 117.2,414.8 117.5,413.1 117.8,413.9 118.0,413.0 118.2,412.5 118.5,411.7 118.8,413.9 119.0,413.1 119.2,413.3 119.5,415.6 119.8,414.9 120.0,415.7 120.2,411.4 120.5,415.4 120.8,413.5 121.0,413.2 121.2,413.3 121.5,417.1 121.8,416.5 122.0,413.9 122.2,413.2 122.5,415.4 122.8,414.7 123.0,418.6 123.2,413.1 123.5,412.6 123.8,415.5 124.0,416.1 124.2,416.4 124.5,417.6 124.8,420.1 125.0,415.9 125.2,415.6 125.5,413.5 125.8,417.2 126.0,418.4 126.2,416.5 126.5,419.1 126.8,417.2 127.0,419.9 127.2,417.8 127.5,415.4 127.8,416.2 128.0,414.7 128.2,414.4 128.5,418.0 128.8,419.1 129.0,421.0 129.2,417.4 129.5,417.1 129.8,415.5 130.0,419.2 130.2,418.0 130.5,416.2 130.8,418.3 131.0,417.9 131.2,413.3 131.5,417.6 131.8,416.2 132.0,414.8 132.2,414.2 132.5,417.5 132.8,416.5 133.0,416.3 133.2,410.3 133.5,410.5 133.8,412.5 134.0,408.1 134.2,408.3 134.5,405.9 134.8,412.0 135.0,410.5 135.2,409.5 135.5,409.3 135.8,408.7 136.0,409.3 136.2,411.9 136.5,410.3 136.8,414.6 137.0,412.4 137.2,412.5 137.5,417.2 137.8,415.3 138.0,417.2 138.2,416.1 138.5,413.4 138.8,418.8 139.0,415.9 139.2,420.6 139.5,416.2 139.8,416.0 140.0,420.1 140.2,420.5 140.5,420.1 140.8,418.0 141.0,421.9 141.2,417.9 141.5,419.8 141.8,419.4 142.0,420.3 142.2,422.7 142.5,420.3 142.8,422.7 143.0,423.2 143.2,419.2 143.5,420.4 143.8,422.1 144.0,422.0 144.2,423.8 144.5,420.2 144.8,425.1 145.0,425.4 145.2,424.1 145.5,422.2 145.8,424.9 146.0,424.2 146.2,426.4 146.5,425.4 146.8,427.1 147.0,425.2 147.2,428.6 147.5,422.2 147.8,424.6 148.0,427.3 148.2,423.9 148.5,427.8 148.8,424.4 149.0,426.6 149.2,424.8 149.5,425.5 149.8,426.5 150.0,425.9 150.2,425.2 150.5,429.5 150.8,425.5 151.0,423.6 151.2,426.7 151.5,426.3 151.8,426.8 152.0,427.5 152.2,422.5 152.5,425.7 152.8,425.6 153.0,423.3 153.2,423.4 153.5,417.4 153.8,421.3 154.0,425.1 154.2,418.4 154.5,420.2 154.8,421.2 155.0,421.3 155.2,422.6 155.5,416.0 155.8,418.6 156.0,419.3 156.2,414.8 156.5,416.2 156.8,418.8 157.0,416.9 157.2,414.6 157.5,408.2 157.8,411.8 158.0,412.0 158.2,410.2 158.5,410.3 158.8,415.8 159.0,410.1 159.2,409.2 159.5,412.0 159.8,411.9 160.0,412.8 160.2,414.2 160.5,416.8 160.8,416.9 161.0,415.4 161.2,418.2 161.5,420.2 161.8,419.3 162.0,422.9 162.2,422.9 162.5,420.4 162.8,423.2 163.0,426.6 163.2,426.2 163.5,423.7 163.8,425.6 164.0,423.1 164.2,422.0 164.5,425.7 164.8,425.3 165.0,425.8 165.2,425.0 165.5,425.7 165.8,424.3 166.0,426.0 166.2,426.7 166.5,425.1 166.8,426.6 167.0,422.1 167.2,423.7 167.5,427.5 167.8,428.0 168.0,425.3 168.2,424.5 168.5,422.4 168.8,425.1 169.0,425.7 169.2,421.6 169.5,425.0 169.8,424.7 170.0,424.5 170.2,421.6 170.5,424.4 170.8,420.6 171.0,425.7 171.2,423.2 171.5,420.8 171.8,425.0 172.0,424.6 172.2,421.3 172.5,426.2 172.8,420.4 173.0,422.5 173.2,423.9 173.5,417.7 173.8,423.3 174.0,421.2 174.2,421.1 174.5,419.0 174.8,421.3 175.0,418.6 175.2,418.6 175.5,419.3 175.8,417.7 176.0,422.4 176.2,417.0 176.5,417.7 176.8,418.1 177.0,418.3 177.2,419.2 177.5,418.7 177.8,416.1 178.0,415.2 178.2,415.1 178.5,415.5 178.8,414.2 179.0,410.7 179.2,406.5 179.5,412.2 179.8,408.2 180.0,404.9 180.2,402.8 180.5,398.8 180.8,395.4 181.0,394.0 181.2,391.5 181.5,388.3 181.8,384.5 182.0,384.5 182.2,384.4 182.5,381.5 182.8,382.1 183.0,378.7 183.2,383.0 183.5,384.7 183.8,384.9 184.0,386.4 184.2,392.9 184.5,393.5 184.8,398.7 185.0,399.9 185.2,404.4 185.5,405.2 185.8,405.5 186.0,410.2 186.2,411.7 186.5,415.2 186.8,414.9 187.0,416.4 187.2,419.8 187.5,421.4 187.8,421.6 188.0,422.9 188.2,422.6 188.5,423.8 188.8,424.7 189.0,424.4 189.2,424.4 189.5,425.1 189.8,429.7 190.0,426.0 190.2,426.1 190.5,426.4 190.8,427.5 191.0,428.4 191.2,426.5 191.5,425.5 191.8,429.8 192.0,426.9 192.2,430.5 192.5,430.6 192.8,432.6 193.0,433.7 193.2,431.6 193.5,430.2 193.8,429.3 194.0,430.1 194.2,431.6 194.5,428.1 194.8,432.0 195.0,432.0 195.2,433.2 195.5,431.6 195.8,432.5 196.0,431.2 196.2,431.7 196.5,429.6 196.8,432.9 197.0,435.5 197.2,433.2 197.5,433.6 197.8,431.4 198.0,435.6 198.2,431.9 198.5,434.7 198.8,433.5 199.0,431.8 199.2,435.3 199.5,433.6 199.8,433.9 200.0,434.5 200.2,433.7 200.5,433.1 200.8,434.7 201.0,433.2 201.2,434.1 201.5,432.9 201.8,431.5 202.0,433.0 202.2,433.3 202.5,434.2 202.8,436.3 203.0,431.4 203.2,434.6 203.5,430.6 203.8,432.6 204.0,433.6 204.2,430.6 204.5,431.3 204.8,434.7 205.0,434.5 205.2,434.0 205.5,432.5 205.8,437.2 206.0,432.6 206.2,430.6 206.5,434.0 206.8,431.3 207.0,428.9 207.2,431.5 207.5,430.2 207.8,431.9 208.0,432.2 208.2,431.0 208.5,435.2 208.8,434.5 209.0,432.9 209.2,433.7 209.5,436.8 209.8,434.7 210.0,435.5 210.2,436.6 210.5,435.8 210.8,433.0 211.0,436.7 211.2,437.3 211.5,437.2 211.8,438.5 212.0,436.3 212.2,437.0 212.5,438.4 212.8,435.2 213.0,438.6 213.2,438.6 213.5,437.0 213.8,438.8 214.0,437.1 214.2,434.1 214.5,437.5 214.8,436.1 215.0,436.2 215.2,435.7 215.5,437.7 215.8,436.3 216.0,434.1 216.2,436.1 216.5,436.5 216.8,434.0 217.0,434.4 217.2,434.5 217.5,434.0 217.8,435.6 218.0,436.7 218.2,438.2 218.5,436.9 218.8,436.6 219.0,436.7 219.2,437.0 219.5,434.0 219.8,435.8 220.0,435.1 220.2,434.3 220.5,433.7 220.8,433.6 221.0,433.9 221.2,432.2 221.5,435.2 221.8,434.2 222.0,434.4 222.2,434.8 222.5,435.4 222.8,433.1 223.0,433.9 223.2,431.3 223.5,430.2 223.8,430.7 224.0,436.6 224.2,430.8 224.5,434.8 224.8,436.5 225.0,433.1 225.2,436.7 225.5,437.1 225.8,435.5 226.0,438.0 226.2,435.0 226.5,432.7 226.8,434.8 227.0,433.2 227.2,431.7 227.5,431.7 227.8,437.9 228.0,433.0 228.2,433.9 228.5,432.8 228.8,434.2 229.0,433.5 229.2,433.3 229.5,431.9 229.8,431.5 230.0,432.7 230.2,434.5 230.5,437.6 230.8,435.8 231.0,437.1 231.2,434.9 231.5,433.9 231.8,431.8 232.0,434.0 232.2,430.4 232.5,433.5 232.8,436.9 233.0,434.6 233.2,436.0 233.5,433.4 233.8,431.7 234.0,433.3 234.2,433.4 234.5,436.2 234.8,437.5 235.0,432.9 235.2,433.6 235.5,433.9 235.8,433.6 236.0,432.1 236.2,434.4 236.5,434.8 236.8,434.9 237.0,432.2 237.2,434.1 237.5,431.3 237.8,435.9 238.0,432.5 238.2,433.8 238.5,433.5 238.8,433.3 239.0,432.5 239.2,431.3 239.5,437.4 239.8,434.8 240.0,434.9 240.2,438.0 240.5,434.2 240.8,435.4 241.0,434.5 241.2,436.5 241.5,435.3 241.8,435.0 242.0,434.1 242.2,435.0 242.5,436.5 242.8,431.0 243.0,434.3 243.2,433.9 243.5,434.1 243.8,431.2 244.0,435.9 244.2,433.2 244.5,434.3 244.8,433.8 245.0,431.8 245.2,434.0 245.5,431.6 245.8,433.1 246.0,434.2 246.2,434.8 246.5,434.9 246.8,434.6 247.0,438.6 247.2,435.7 247.5,432.8 247.8,433.9 248.0,433.9 248.2,434.7 248.5,434.0 248.8,433.6 249.0,437.9 249.2,435.2 249.5,434.6 249.8,434.8 250.0,434.8 250.2,437.6 250.5,436.1 250.8,437.2 251.0,430.0 251.2,435.9 251.5,437.2 251.8,438.8 252.0,435.5 252.2,432.5 252.5,436.5 252.8,434.5 253.0,432.5 253.2,434.5 253.5,437.4 253.8,437.7 254.0,436.9 254.2,433.9 254.5,440.1 254.8,433.8 255.0,435.7 255.2,433.4 255.5,438.1 255.8,436.7 256.0,437.5 256.2,436.1 256.5,435.9 256.8,436.3 257.0,432.8 257.2,437.8 257.5,437.7 257.8,435.5 258.0,436.1 258.2,436.7 258.5,438.9 258.8,437.0 259.0,436.3 259.2,435.4 259.5,433.7 259.8,435.3 260.0,436.5 260.2,436.0 260.5,436.5 260.8,437.7 261.0,437.2 261.2,437.0 261.5,437.6 261.8,436.8 262.0,436.5 262.2,437.4 262.5,433.6 262.8,438.8 263.0,434.4 263.2,438.1 263.5,436.7 263.8,438.6 264.0,436.8 264.2,435.1 264.5,438.6 264.8,437.1 265.0,437.0 265.2,437.0 265.5,438.6 265.8,438.3 266.0,437.3 266.2,434.3 266.5,436.3 266.8,437.1 267.0,440.1 267.2,437.7 267.5,436.9 267.8,439.1 268.0,436.9 268.2,437.1 268.5,437.4 268.8,434.6 269.0,438.8 269.2,437.9 269.5,436.7 269.8,435.3 270.0,437.6 270.2,439.7 270.5,436.2 270.8,435.5 271.0,438.1 271.2,434.7 271.5,433.6 271.8,436.7 272.0,436.3 272.2,437.0 272.5,436.6 272.8,438.1 273.0,437.2 273.2,436.6 273.5,436.9 273.8,438.8 274.0,439.3 274.2,439.3 274.5,439.0 274.8,432.2 275.0,436.1 275.2,437.3 275.5,438.3 275.8,435.2 276.0,440.4 276.2,438.5 276.5,437.0 276.8,438.4 277.0,437.5 277.2,436.9 277.5,439.1 277.8,437.5 278.0,435.9 278.2,437.3 278.5,438.2 278.8,436.6 279.0,440.6 279.2,436.7 279.5,441.6 279.8,440.2 280.0,437.1 280.2,439.0 280.5,440.8 280.8,438.5 281.0,436.9 281.2,439.1 281.5,442.4 281.8,436.5 282.0,440.0 282.2,439.2 282.5,439.0 282.8,438.6 283.0,438.8 283.2,441.1 283.5,440.4 283.8,437.8 284.0,442.2 284.2,437.4 284.5,440.8 284.8,440.0 285.0,441.8 285.2,440.4 285.5,441.6 285.8,439.9 286.0,441.6 286.2,440.6 286.5,443.7 286.8,438.9 287.0,442.2 287.2,441.0 287.5,440.6 287.8,439.3 288.0,441.1 288.2,437.9 288.5,438.1 288.8,441.7 289.0,437.9 289.2,443.0 289.5,440.2 289.8,441.1 290.0,440.8 290.2,441.5 290.5,440.3 290.8,440.2 291.0,440.6 291.2,442.7 291.5,442.8 291.8,443.1 292.0,441.6 292.2,440.7 292.5,438.2 292.8,442.1 293.0,442.5 293.2,440.4 293.5,442.4 293.8,443.3 294.0,441.2 294.2,442.9 294.5,441.6 294.8,438.1 295.0,440.2 295.2,440.2 295.5,441.7 295.8,439.3 296.0,439.8 296.2,438.8 296.5,440.2 296.8,440.1 297.0,441.4 297.2,440.8 297.5,439.4 297.8,439.1 298.0,438.5 298.2,438.0 298.5,440.0 298.8,432.7 299.0,436.1 299.2,436.4 299.5,437.4 299.8,433.3 300.0,435.4 300.2,436.2 300.5,433.9 300.8,431.5 301.0,434.4 301.2,433.3 301.5,436.9 301.8,434.9 302.0,439.8 302.2,437.6 302.5,436.6 302.8,437.7 303.0,437.2 303.2,440.2 303.5,442.5 303.8,440.1 304.0,442.4 304.2,439.6 304.5,442.0 304.8,445.7 305.0,439.6 305.2,444.3 305.5,444.4 305.8,439.4 306.0,440.3 306.2,441.2 306.5,444.6 306.8,442.3 307.0,442.9 307.2,444.4 307.5,443.5 307.8,443.8 308.0,442.9 308.2,445.4 308.5,442.3 308.8,446.5 309.0,443.1 309.2,442.4 309.5,444.9 309.8,444.7 310.0,440.6 310.2,444.4 310.5,441.8 310.8,442.7 311.0,445.5 311.2,442.8 311.5,444.9 311.8,443.7 312.0,447.7 312.2,444.3 312.5,442.5 312.8,442.7 313.0,443.1 313.2,444.9 313.5,444.7 313.8,446.4 314.0,445.1 314.2,445.1 314.5,445.5 314.8,444.8 315.0,445.6 315.2,446.5 315.5,446.5 315.8,444.4 316.0,442.4 316.2,444.0 316.5,445.9 316.8,441.3 317.0,444.8 317.2,446.4 317.5,444.8 317.8,443.9 318.0,448.8 318.2,448.2 318.5,445.5 318.8,448.2 319.0,448.2 319.2,444.2 319.5,450.7 319.8,444.7 320.0,445.9 320.2,444.5 320.5,446.6 320.8,444.3 321.0,446.5 321.2,448.4 321.5,447.0 321.8,446.3 322.0,449.4 322.2,445.4 322.5,448.5 322.8,446.5 323.0,447.4 323.2,447.2 323.5,447.4 323.8,447.1 324.0,446.0 324.2,446.4 324.5,448.1 324.8,447.3 325.0,445.6 325.2,446.4 325.5,446.5 325.8,447.6 326.0,448.1 326.2,448.0 326.5,446.8 326.8,448.0 327.0,445.7 327.2,443.2 327.5,448.0 327.8,445.4 328.0,446.6 328.2,446.2 328.5,449.4 328.8,446.3 329.0,448.9 329.2,447.6 329.5,446.5 329.8,445.9 330.0,449.4 330.2,449.3 330.5,450.0 330.8,451.8 331.0,449.3 331.2,449.3 331.5,448.7 331.8,449.1 332.0,448.4 332.2,447.5 332.5,452.4 332.8,446.0 333.0,449.6 333.2,449.9 333.5,449.5 333.8,447.7 334.0,449.0 334.2,448.6 334.5,447.6 334.8,449.3 335.0,448.8 335.2,448.5 335.5,450.6 335.8,447.8 336.0,450.3 336.2,448.6 336.5,450.3 336.8,449.8 337.0,450.1 337.2,448.1 337.5,448.4 337.8,448.3 338.0,450.0 338.2,451.0 338.5,451.6 338.8,449.0 339.0,450.0 339.2,447.2 339.5,446.2 339.8,448.4 340.0,448.8 340.2,447.3 340.5,447.0 340.8,450.8 341.0,448.6 341.2,447.1 341.5,453.8 341.8,450.2 342.0,449.4 342.2,451.1 342.5,448.7 342.8,452.6 343.0,447.5 343.2,447.8 343.5,449.8 343.8,448.8 344.0,452.4 344.2,447.4 344.5,448.8 344.8,450.5 345.0,451.0 345.2,451.7 345.5,450.6 345.8,453.7 346.0,449.3 346.2,450.4 346.5,451.5 346.8,449.6 347.0,449.6 347.2,449.4 347.5,449.1 347.8,448.3 348.0,449.2 348.2,447.6 348.5,450.8 348.8,447.5 349.0,453.6 349.2,453.0 349.5,452.0 349.8,449.8 350.0,449.2 350.2,452.2 350.5,450.5 350.8,451.1 351.0,449.0 351.2,452.0 351.5,448.9 351.8,450.4 352.0,447.3 352.2,449.1 352.5,451.0 352.8,449.5 353.0,449.5 353.2,451.5 353.5,450.1 353.8,452.3 354.0,446.2 354.2,451.2 354.5,451.1 354.8,447.7 355.0,448.1 355.2,451.7 355.5,448.5 355.8,449.2 356.0,451.2 356.2,449.7 356.5,451.1 356.8,448.8 357.0,450.8 357.2,452.1 357.5,450.8 357.8,446.7 358.0,451.4 358.2,450.4 358.5,448.8 358.8,452.6 359.0,447.4 359.2,453.4 359.5,449.2 359.8,452.9 360.0,450.2 360.2,448.1 360.5,450.5 360.8,450.9 361.0,451.2 361.2,452.1 361.5,448.8 361.8,451.1 362.0,451.5 362.2,449.9 362.5,448.8 362.8,448.7 363.0,451.5 363.2,451.6 363.5,448.9 363.8,448.1 364.0,452.3 364.2,447.7 364.5,450.5 364.8,448.9 365.0,447.4 365.2,450.4 365.5,449.9 365.8,452.6 366.0,453.9 366.2,449.8 366.5,451.8 366.8,451.8 367.0,449.1 367.2,448.5 367.5,452.5 367.8,449.2 368.0,449.6 368.2,449.1 368.5,449.2 368.8,448.3 369.0,450.4 369.2,451.1 369.5,448.3 369.8,446.5 370.0,448.7 370.2,446.0 370.5,447.3 370.8,450.2 371.0,451.9 371.2,448.6 371.5,446.1 371.8,449.1 372.0,444.2 372.2,446.7 372.5,450.5 372.8,449.3 373.0,445.9 373.2,445.6 373.5,450.0 373.8,448.7 374.0,448.0 374.2,449.9 374.5,448.5 374.8,446.5 375.0,451.2 375.2,449.0 375.5,448.6 375.8,448.3 376.0,451.1 376.2,449.5 376.5,452.0 376.8,450.7 377.0,453.1 377.2,450.8 377.5,450.5 377.8,448.5 378.0,450.1 378.2,453.2 378.5,457.2 378.8,450.2 379.0,450.7 379.2,453.1 379.5,453.4 379.8,451.6 380.0,453.0 380.2,450.3 380.5,452.6 380.8,454.6 381.0,455.9 381.2,453.1 381.5,453.0 381.8,454.3 382.0,455.5 382.2,454.6 382.5,452.6 382.8,454.5 383.0,455.6 383.2,453.0 383.5,452.0 383.8,455.1 384.0,455.0 384.2,456.1 384.5,454.7 384.8,453.6 385.0,454.0 385.2,453.1 385.5,453.3 385.8,454.0 386.0,454.2 386.2,456.8 386.5,453.1 386.8,455.0 387.0,454.2 387.2,457.6 387.5,455.7 387.8,454.7 388.0,456.6 388.2,455.4 388.5,454.6 388.8,457.9 389.0,456.5 389.2,458.2 389.5,457.3 389.8,456.7 390.0,455.6 390.2,453.7 390.5,456.6 390.8,455.6 391.0,456.5 391.2,455.4 391.5,454.3 391.8,453.8 392.0,456.6 392.2,457.6 392.5,455.0 392.8,456.2 393.0,457.7 393.2,454.1 393.5,454.9 393.8,453.7 394.0,457.4 394.2,455.9 394.5,454.7 394.8,452.8 395.0,455.1 395.2,457.0 395.5,454.9 395.8,454.7 396.0,456.4 396.2,453.3 396.5,455.4 396.8,456.2 397.0,453.9 397.2,453.8 397.5,455.5 397.8,454.8 398.0,454.5 398.2,455.1 398.5,455.0 398.8,452.9 399.0,453.1 399.2,454.7 399.5,455.5 399.8,455.6 400.0,451.6 400.2,454.3 400.5,453.4 400.8,451.6 401.0,451.9 401.2,451.9 401.5,452.9 401.8,447.7 402.0,449.9 402.2,448.2 402.5,447.7 402.8,449.6 403.0,448.9 403.2,445.9 403.5,447.2 403.8,448.3 404.0,446.0 404.2,450.1 404.5,449.1 404.8,450.0 405.0,450.9 405.2,453.8 405.5,451.5 405.8,451.4 406.0,455.3 406.2,452.1 406.5,452.5 406.8,451.4 407.0,455.8 407.2,454.7 407.5,455.3 407.8,455.0 408.0,454.7 408.2,453.8 408.5,454.0 408.8,456.1 409.0,455.7 409.2,458.2 409.5,454.4 409.8,454.9 410.0,454.1 410.2,458.0 410.5,453.8 410.8,457.1 411.0,458.2 411.2,455.7 411.5,457.1 411.8,452.6 412.0,455.4 412.2,453.4 412.5,456.4 412.8,456.1 413.0,454.9 413.2,457.7 413.5,456.8 413.8,455.4 414.0,455.4 414.2,453.9 414.5,456.0 414.8,459.8 415.0,455.2 415.2,457.1 415.5,455.5 415.8,457.7 416.0,457.2 416.2,456.1 416.5,453.6 416.8,455.7 417.0,458.5 417.2,456.2 417.5,457.6 417.8,455.9 418.0,453.6 418.2,457.4 418.5,457.2 418.8,455.8 419.0,456.2 419.2,457.2 419.5,455.8 419.8,457.4 420.0,456.5 420.2,453.1 420.5,456.7 420.8,456.0 421.0,455.6 421.2,457.6 421.5,456.2 421.8,457.9 422.0,458.8 422.2,457.3 422.5,454.6 422.8,456.0 423.0,458.6 423.2,456.8 423.5,455.9 423.8,457.1 424.0,458.1 424.2,457.7 424.5,458.4 424.8,456.0 425.0,456.9 425.2,457.0 425.5,457.4 425.8,454.1 426.0,457.1 426.2,455.3 426.5,459.8 426.8,460.1 427.0,460.3 427.2,458.9 427.5,456.8 427.8,459.2 428.0,457.4 428.2,458.7 428.5,456.3 428.8,456.8 429.0,458.5 429.2,460.7 429.5,457.8 429.8,461.5 430.0,462.3 430.2,455.8 430.5,457.9 430.8,456.4 431.0,457.8 431.2,457.1 431.5,457.9 431.8,459.6 432.0,459.6 432.2,458.5 432.5,458.1 432.8,458.3 433.0,458.4 433.2,459.1 433.5,458.2 433.8,459.0 434.0,456.1 434.2,459.5 434.5,461.1 434.8,458.6 435.0,456.0 435.2,460.5 435.5,457.8 435.8,453.6 436.0,458.0 436.2,459.4 436.5,459.1 436.8,460.5 437.0,459.5 437.2,458.7 437.5,455.3 437.8,456.7 438.0,458.8 438.2,459.6 438.5,456.9 438.8,457.6 439.0,459.3 439.2,455.5 439.5,455.5 439.8,458.3 440.0,459.0 440.2,457.9 440.5,455.0 440.8,458.7 441.0,456.5 441.2,459.7 441.5,458.5 441.8,459.1 442.0,459.7 442.2,457.9 442.5,460.1 442.8,460.7 443.0,459.4 443.2,460.9 443.5,457.7 443.8,460.2 444.0,459.2 444.2,457.2 444.5,458.6 444.8,457.9 445.0,457.9 445.2,458.9 445.5,460.5 445.8,458.2 446.0,458.9 446.2,456.4 446.5,458.9 446.8,460.6 447.0,460.0 447.2,459.5 447.5,457.8 447.8,457.1 448.0,458.5 448.2,456.5 448.5,456.6 448.8,460.1 449.0,457.1 449.2,461.4 449.5,456.2 449.8,459.2 450.0,456.6 450.2,458.7 450.5,456.7 450.8,458.4 451.0,458.1 451.2,457.6 451.5,459.1 451.8,460.7 452.0,457.3 452.2,459.6 452.5,458.3 452.8,458.1 453.0,461.7 453.2,454.6 453.5,457.0 453.8,455.1 454.0,457.5 454.2,457.6 454.5,464.1 454.8,458.5 455.0,460.8 455.2,460.0 455.5,457.1 455.8,458.6 456.0,460.4 456.2,458.0 456.5,458.0 456.8,458.4 457.0,455.1 457.2,456.1 457.5,457.8 457.8,458.0 458.0,455.5 458.2,456.3 458.5,456.5 458.8,456.2 459.0,457.4 459.2,456.2 459.5,456.0 459.8,453.2 460.0,453.4 460.2,455.3 460.5,451.9 460.8,454.5 461.0,452.7 461.2,452.1 461.5,454.1 461.8,451.6 462.0,451.1 462.2,451.1 462.5,452.1 462.8,456.4 463.0,448.5 463.2,452.0 463.5,451.8 463.8,453.9 464.0,452.1 464.2,449.0 464.5,455.5 464.8,452.0 465.0,454.1 465.2,452.4 465.5,453.3 465.8,454.6 466.0,457.2 466.2,457.5 466.5,455.6 466.8,457.7 467.0,456.6 467.2,457.6 467.5,457.9 467.8,458.9 468.0,457.1 468.2,458.1 468.5,458.8 468.8,458.8 469.0,457.5 469.2,461.7 469.5,458.2 469.8,460.3 470.0,459.5 470.2,461.2 470.5,455.8 470.8,462.7 471.0,459.1 471.2,457.5 471.5,459.7 471.8,463.2 472.0,460.4 472.2,457.6 472.5,458.9 472.8,461.9 473.0,457.5 473.2,459.5 473.5,459.3 473.8,463.3 474.0,459.4 474.2,462.0 474.5,458.8 474.8,458.7 475.0,461.6 475.2,461.0 475.5,457.3 475.8,461.1 476.0,461.1 476.2,459.1 476.5,460.5 476.8,460.6 477.0,459.4 477.2,459.3 477.5,459.2 477.8,459.8 478.0,458.2 478.2,460.3 478.5,457.9 478.8,460.5 479.0,460.3 479.2,458.8 479.5,461.8 479.8,463.6 480.0,462.6 480.2,458.3 480.5,462.6 480.8,460.9 481.0,460.5 481.2,459.7 481.5,460.6 481.8,462.9 482.0,461.6 482.2,460.0 482.5,459.7 482.8,460.1 483.0,461.7 483.2,463.8 483.5,459.1 483.8,460.8 484.0,460.2 484.2,459.7 484.5,461.5 484.8,461.8 485.0,458.7 485.2,459.3 485.5,462.9 485.8,461.5 486.0,461.9 486.2,460.3 486.5,460.5 486.8,461.8 487.0,460.3 487.2,459.4 487.5,461.2 487.8,462.6 488.0,459.6 488.2,462.9 488.5,462.4 488.8,459.9 489.0,461.3 489.2,461.2 489.5,462.3 489.8,462.4 490.0,459.3 490.2,459.2 490.5,463.1 490.8,461.6 491.0,462.1 491.2,462.0 491.5,463.9 491.8,459.6 492.0,463.3 492.2,460.2 492.5,462.7 492.8,463.7 493.0,459.4 493.2,462.3 493.5,461.2 493.8,461.2 494.0,461.7 494.2,460.0 494.5,460.2 494.8,462.8 495.0,463.1 495.2,460.9 495.5,459.5 495.8,465.5 496.0,463.6 496.2,462.4 496.5,460.2 496.8,460.9 497.0,462.3 497.2,460.4 497.5,464.5 497.8,462.1 498.0,462.6 498.2,460.3 498.5,460.5 498.8,460.7 499.0,462.4 499.2,461.6 499.5,461.6 499.8,462.5 500.0,462.4 500.2,464.4 500.5,461.8 500.8,460.5 501.0,462.1 501.2,464.4 501.5,461.2 501.8,462.2 502.0,461.6 502.2,462.8 502.5,462.6 502.8,460.9 503.0,461.8 503.2,463.7 503.5,463.9 503.8,463.7 504.0,463.6 504.2,461.7 504.5,461.6 504.8,463.7 505.0,460.4 505.2,462.2 505.5,459.3 505.8,461.7 506.0,461.1 506.2,460.4 506.5,463.2 506.8,461.1 507.0,461.7 507.2,461.9 507.5,461.1 507.8,464.5 508.0,461.5 508.2,462.6 508.5,460.2 508.8,461.5 509.0,461.8 509.2,461.8 509.5,461.4 509.8,462.5 510.0,464.8 510.2,462.1 510.5,462.1 510.8,461.7 511.0,466.3 511.2,464.8 511.5,463.1 511.8,463.4 512.0,461.1 512.2,462.0 512.5,462.5 512.8,462.4 513.0,460.8 513.2,460.9 513.5,462.9 513.8,462.6 514.0,458.7 514.2,462.2 514.5,464.0 514.8,460.9 515.0,462.3 515.2,459.5 515.5,463.1 515.8,459.9 516.0,459.6 516.2,461.0 516.5,465.1 516.8,460.3 517.0,459.1 517.2,461.6 517.5,461.1 517.8,463.1 518.0,458.2 518.2,457.5 518.5,459.2 518.8,460.0 519.0,459.6 519.2,460.4 519.5,455.9 519.8,456.6 520.0,457.3 520.2,458.4 520.5,457.5 520.8,455.7 521.0,454.4 521.2,457.1 521.5,457.0 521.8,459.6 522.0,455.0 522.2,457.8 522.5,453.4 522.8,454.6 523.0,454.6 523.2,455.2 523.5,454.9 523.8,455.8 524.0,456.9 524.2,456.6 524.5,458.8 524.8,458.0 525.0,458.4 525.2,461.1 525.5,459.6 525.8,459.6 526.0,459.6 526.2,460.0 526.5,461.0 526.8,459.0 527.0,462.3 527.2,463.1 527.5,462.6 527.8,460.1 528.0,458.4 528.2,460.4 528.5,461.4 528.8,462.5 529.0,460.9 529.2,460.8 529.5,463.7 529.8,460.3 530.0,463.0 530.2,462.8 530.5,459.3 530.8,461.8 531.0,460.5 531.2,459.9 531.5,458.5 531.8,458.9 532.0,462.1 532.2,460.8 532.5,461.8 532.8,459.7 533.0,460.9 533.2,460.9 533.5,458.9 533.8,458.6 534.0,461.9 534.2,461.3 534.5,459.5 534.8,460.7 535.0,461.7 535.2,463.4 535.5,458.9 535.8,461.0 536.0,463.1 536.2,459.6 536.5,461.5 536.8,454.9 537.0,461.1 537.2,458.6 537.5,455.7 537.8,459.9 538.0,460.5 538.2,461.0 538.5,461.3 538.8,459.8 539.0,459.0 539.2,459.9 539.5,460.9 539.8,462.0 540.0,460.9 540.2,462.0 540.5,463.6 540.8,463.0 541.0,466.3 541.2,466.3 541.5,461.2 541.8,462.2 542.0,461.2 542.2,461.5 542.5,464.3 542.8,462.0 543.0,461.9 543.2,463.2 543.5,465.0 543.8,463.2 544.0,463.2 544.2,465.3 544.5,464.6 544.8,464.6 545.0,465.4 545.2,462.4 545.5,464.3 545.8,463.0 546.0,465.7 546.2,465.3 546.5,462.4 546.8,466.2 547.0,462.3 547.2,466.0 547.5,464.5 547.8,462.8 548.0,462.4 548.2,463.7 548.5,464.2 548.8,463.1 549.0,465.1 549.2,462.0 549.5,464.3 549.8,464.3 550.0,461.3 550.2,464.8 550.5,462.3 550.8,460.4 551.0,463.4 551.2,464.0 551.5,465.8 551.8,463.6 552.0,466.7 552.2,466.7 552.5,466.2 552.8,466.5 553.0,465.0 553.2,463.6 553.5,465.5 553.8,466.0 554.0,464.9 554.2,464.1 554.5,462.1 554.8,465.6 555.0,465.1 555.2,462.5 555.5,464.7 555.8,465.7 556.0,464.4 556.2,465.8 556.5,465.8 556.8,462.3 557.0,464.2 557.2,465.4 557.5,466.1 557.8,466.9 558.0,461.6 558.2,464.6 558.5,465.8 558.8,466.6 559.0,467.4 559.2,463.2 559.5,464.1 559.8,463.1 560.0,466.0 560.2,462.7 560.5,466.6 560.8,466.3 561.0,465.6 561.2,461.4 561.5,463.7 561.8,466.0 562.0,462.6 562.2,464.5 562.5,464.7 562.8,466.3 563.0,465.3 563.2,465.3 563.5,464.2 563.8,464.9 564.0,464.7 564.2,466.0 564.5,464.6 564.8,466.5 565.0,462.2 565.2,466.8 565.5,464.7 565.8,466.7 566.0,465.1 566.2,466.3 566.5,467.3 566.8,464.1 567.0,465.1 567.2,464.7 567.5,465.3 567.8,462.4 568.0,464.7 568.2,464.6 568.5,463.8 568.8,464.7 569.0,462.6 569.2,467.2 569.5,465.7 569.8,468.0 570.0,463.7 570.2,463.2 570.5,465.5 570.8,462.4 571.0,465.4 571.2,464.0 571.5,464.5 571.8,465.5 572.0,465.2 572.2,468.0 572.5,466.1 572.8,463.1 573.0,466.7 573.2,463.0 573.5,465.3 573.8,463.1 574.0,463.8 574.2,467.2 574.5,464.3 574.8,464.1 575.0,464.3 575.2,464.7 575.5,467.4 575.8,463.3 576.0,463.2 576.2,466.1 576.5,462.6 576.8,464.6 577.0,467.0 577.2,465.2 577.5,464.4 577.8,464.1 578.0,463.7 578.2,464.3 578.5,465.4 578.8,467.2 579.0,466.7 579.2,464.3 579.5,464.1 579.8,466.3 580.0,462.3 580.2,464.5 580.5,464.7 580.8,463.5 581.0,463.6 581.2,465.8 581.5,462.6 581.8,463.8 582.0,464.2 582.2,465.4 582.5,463.1 582.8,467.0 583.0,464.8 583.2,464.8 583.5,464.7 583.8,464.2 584.0,463.7 584.2,467.1 584.5,465.6 584.8,465.1 585.0,466.8 585.2,464.1 585.5,466.3 585.8,465.3 586.0,463.9 586.2,466.5 586.5,462.9 586.8,466.3 587.0,463.9 587.2,465.9 587.5,467.4 587.8,466.2 588.0,464.3 588.2,465.2 588.5,464.7 588.8,463.4 589.0,463.5 589.2,465.3 589.5,466.1 589.8,462.5 590.0,465.2 590.2,466.1 590.5,465.5 590.8,463.7 591.0,466.9 591.2,463.4 591.5,466.3 591.8,467.8 592.0,462.1 592.2,465.7 592.5,465.8 592.8,465.6 593.0,464.1 593.2,464.8 593.5,463.1 593.8,465.5 594.0,466.1 594.2,464.2 594.5,463.8 594.8,464.6 595.0,465.3 595.2,465.4 595.5,465.1 595.8,465.4 596.0,463.2 596.2,461.0 596.5,466.3 596.8,467.5 597.0,463.1 597.2,464.3 597.5,465.8 597.8,466.8 598.0,466.3 598.2,467.3 598.5,465.2 598.8,466.0 599.0,466.0 599.2,464.6 599.5,467.2 599.8,466.3 600.0,466.9 600.2,464.7 600.5,467.0 600.8,463.7 601.0,466.0 601.2,461.2 601.5,463.8 601.8,466.5 602.0,464.6 602.2,465.6 602.5,462.8 602.8,467.8 603.0,466.3 603.2,465.3 603.5,466.0 603.8,465.9 604.0,467.6 604.2,465.7 604.5,463.1 604.8,465.0 605.0,467.4 605.2,466.3 605.5,464.7 605.8,466.3 606.0,465.6 606.2,466.3 606.5,462.9 606.8,464.0 607.0,466.4 607.2,465.0 607.5,465.9 607.8,468.5 608.0,464.9 608.2,465.8 608.5,464.5 608.8,464.4 609.0,465.3 609.2,463.1 609.5,462.1 609.8,467.5 610.0,465.2 610.2,467.2 610.5,465.6 610.8,465.6 611.0,466.5 611.2,466.5 611.5,463.5 611.8,467.3 612.0,463.9 612.2,465.7 612.5,469.4 612.8,465.6 613.0,468.0 613.2,464.9 613.5,466.4 613.8,465.5 614.0,466.1 614.2,464.1 614.5,464.0 614.8,466.0 615.0,463.0 615.2,464.1 615.5,466.5 615.8,464.5 616.0,464.1 616.2,463.7 616.5,465.7 616.8,464.9 617.0,465.7 617.2,465.2 617.5,468.4 617.8,464.8 618.0,462.4 618.2,465.6 618.5,465.5 618.8,465.7 619.0,463.0 619.2,467.2 619.5,465.4 619.8,465.4 620.0,463.0 620.2,466.2 620.5,465.4 620.8,467.6 621.0,464.8 621.2,463.6 621.5,465.7 621.8,464.1 622.0,466.1 622.2,463.8 622.5,465.3 622.8,465.1 623.0,465.4 623.2,464.7 623.5,464.2 623.8,465.4 624.0,464.6 624.2,465.7 624.5,465.1 624.8,462.0 625.0,465.4 625.2,467.7 625.5,466.0 625.8,466.4 626.0,466.2 626.2,464.8 626.5,463.4 626.8,466.8 627.0,467.2 627.2,466.4 627.5,466.2 627.8,466.1 628.0,465.5 628.2,466.0 628.5,465.6 628.8,466.0 629.0,464.1 629.2,464.6 629.5,466.4 629.8,465.0 630.0,461.8 630.2,465.7 630.5,462.0 630.8,468.5 631.0,466.7 631.2,466.6 631.5,464.5 631.8,463.8 632.0,465.2 632.2,465.6 632.5,464.4 632.8,465.8 633.0,466.6 633.2,466.5 633.5,464.0 633.8,462.2 634.0,465.6 634.2,464.6 634.5,466.3 634.8,468.1 635.0,468.1 635.2,466.0 635.5,467.3 635.8,468.1 636.0,465.7 636.2,466.0 636.5,466.9 636.8,465.5 637.0,464.8 637.2,464.4 637.5,465.6 637.8,464.6 638.0,466.8 638.2,465.1 638.5,467.9 638.8,467.5 639.0,463.7 639.2,467.3 639.5,465.0 639.8,467.7 640.0,466.4 640.2,465.6 640.5,466.7 640.8,464.8 641.0,466.1 641.2,466.2 641.5,465.4 641.8,466.2 642.0,464.1 642.2,466.5 642.5,463.8 642.8,466.6 643.0,466.4 643.2,466.7 643.5,464.8 643.8,470.3 644.0,465.3 644.2,465.9 644.5,464.5 644.8,467.8 645.0,465.0 645.2,467.2 645.5,464.2 645.8,466.2 646.0,465.1 646.2,467.1 646.5,465.2 646.8,464.4 647.0,466.4 647.2,463.9 647.5,464.2 647.8,466.9 648.0,462.9 648.2,466.9 648.5,465.1 648.8,464.3 649.0,466.1 649.2,466.7 649.5,464.8 649.8,465.4 650.0,466.9 650.2,466.9 650.5,465.6 650.8,464.6 651.0,464.3 651.2,464.8 651.5,466.8 651.8,466.6 652.0,466.2 652.2,467.8 652.5,465.3 652.8,465.2 653.0,465.2 653.2,468.6 653.5,462.6 653.8,466.2 654.0,466.4 654.2,465.9 654.5,469.3 654.8,467.5 655.0,466.9 655.2,464.4 655.5,466.5 655.8,465.2 656.0,465.8 656.2,466.1 656.5,465.1 656.8,466.7 657.0,468.2 657.2,467.3 657.5,466.1 657.8,462.9 658.0,467.4 658.2,467.4 658.5,465.5 658.8,465.1 659.0,466.8 659.2,464.6 659.5,467.0 659.8,464.2 660.0,464.4 660.2,465.8 660.5,463.6 660.8,465.8 661.0,466.6 661.2,463.8 661.5,467.2 661.8,465.0 662.0,466.6 662.2,466.1 662.5,465.1 662.8,465.0 663.0,463.3 663.2,464.8 663.5,464.7 663.8,468.3 664.0,467.4 664.2,463.8 664.5,467.0 664.8,466.2 665.0,465.3 665.2,466.5 665.5,467.0 665.8,465.0 666.0,465.4 666.2,466.1 666.5,464.4 666.8,466.1 667.0,465.7 667.2,464.8 667.5,464.6 667.8,466.3 668.0,467.2 668.2,466.3 668.5,464.6 668.8,467.0 669.0,466.1 669.2,466.7 669.5,467.6 669.8,464.5 670.0,465.6 670.2,465.0 670.5,464.6 670.8,468.9 671.0,467.3 671.2,463.2 671.5,466.5 671.8,465.0 672.0,467.6 672.2,466.0 672.5,465.6 672.8,466.1 673.0,466.4 673.2,465.9 673.5,465.5 673.8,465.7 674.0,466.6 674.2,464.2 674.5,465.9 674.8,465.7 675.0,465.1 675.2,467.0 675.5,463.9 675.8,465.3 676.0,464.6 676.2,466.7 676.5,465.2 676.8,466.0 677.0,466.5 677.2,463.5 677.5,466.6 677.8,464.8 678.0,465.5 678.2,465.7 678.5,467.1 678.8,467.0 679.0,468.5 679.2,466.1 679.5,465.2 679.8,465.1 680.0,466.9 680.2,468.3 680.5,466.4 680.8,465.0 681.0,466.3 681.2,466.3 681.5,465.9 681.8,464.8 682.0,462.1 682.2,465.1 682.5,467.5 682.8,466.2 683.0,462.6 683.2,465.9 683.5,463.1 683.8,468.9 684.0,466.2 684.2,464.1 684.5,467.1 684.8,464.7 685.0,466.7 685.2,465.9 685.5,464.1 685.8,466.9 686.0,463.9 686.2,467.9 686.5,466.0 686.8,464.4 687.0,463.2 687.2,468.3 687.5,468.1 687.8,464.0 688.0,468.4 688.2,466.1 688.5,465.6 688.8,465.8 689.0,465.5 689.2,468.0 689.5,466.1 689.8,463.1 690.0,469.0 690.2,467.2 690.5,464.3 690.8,465.4 691.0,464.5 691.2,466.0 691.5,466.5 691.8,466.3 692.0,465.0 692.2,464.7 692.5,467.2 692.8,465.7 693.0,469.3 693.2,464.7 693.5,467.1 693.8,466.0 694.0,464.8 694.2,467.9 694.5,466.1 694.8,464.6 695.0,465.4 695.2,467.4 695.5,464.1"/>
</g>
<g stroke="#111" stroke-width="2" fill="none">
<rect x="56.8" y="16.1" width="640" height="501" stroke-width="2.2"/>
<path d="M56.7 517V522.0 M110.0 517V527.0 M163.3 517V522.0 M216.7 517V527.0 M270.0 517V522.0 M323.3 517V527.0 M376.6 517V522.0 M430.0 517V527.0 M483.3 517V522.0 M536.6 517V527.0 M590.0 517V522.0 M643.3 517V527.0 M696.6 517V522.0"/>
</g>
<g class="s" font-size="18.7" fill="#222" stroke="#222" stroke-width="0.75">
<text x="100.7" y="548.7" textLength="19" lengthAdjust="spacingAndGlyphs">30</text>
<text x="207.4" y="548.7" textLength="19" lengthAdjust="spacingAndGlyphs">40</text>
<text x="314.0" y="548.7" textLength="19" lengthAdjust="spacingAndGlyphs">50</text>
<text x="420.7" y="548.7" textLength="19" lengthAdjust="spacingAndGlyphs">60</text>
<text x="527.3" y="548.7" textLength="19" lengthAdjust="spacingAndGlyphs">70</text>
<text x="634.0" y="548.7" textLength="19" lengthAdjust="spacingAndGlyphs">80</text>
</g>
<text class="s" font-size="24.5" fill="#222" stroke="#222" stroke-width="0.45" x="341.2" y="589.8" textLength="115" lengthAdjust="spacingAndGlyphs">2θ (degree)</text>
<text class="s" font-size="24.5" fill="#222" stroke="#222" stroke-width="0.3" transform="translate(31.2,348.4) rotate(-90)" textLength="186" lengthAdjust="spacingAndGlyphs">Ralative Intensity</text>
<g class="s" font-size="25.5" fill="#1c1c1c" stroke="#1c1c1c" stroke-width="0.45">
<text x="226.6" y="40.9" textLength="29.3" lengthAdjust="spacingAndGlyphs">Mg</text>
<text x="301.6" y="40.2" textLength="50.7" lengthAdjust="spacingAndGlyphs">MgH</text>
<text x="350.5" y="49.6" font-size="13.5" textLength="5.4" lengthAdjust="spacingAndGlyphs">2</text>
<text x="388" y="40.6" textLength="48.3" lengthAdjust="spacingAndGlyphs">MgO</text>
<text x="228.7" y="80" textLength="27.6" lengthAdjust="spacingAndGlyphs">Co</text>
<text x="301.2" y="79.6" textLength="49.1" lengthAdjust="spacingAndGlyphs">CoCl</text>
<text x="353.3" y="89.4" font-size="14" textLength="5.6" lengthAdjust="spacingAndGlyphs">2</text>
<text x="578.6" y="43.8" font-size="24.5" textLength="49.3" lengthAdjust="spacingAndGlyphs">dehy</text>
<text x="578.2" y="73.6" font-size="24.5" textLength="23.5" lengthAdjust="spacingAndGlyphs">hy</text>
<text x="578.5" y="104.8" font-size="24.5" textLength="109.8" lengthAdjust="spacingAndGlyphs">as prepare</text>
</g>
<g stroke-width="2" fill="none">
<path d="M519.8 35.7H571.5" stroke="#4a9a72"/>
<path d="M519.8 66.1H571.5" stroke="#cc5068"/>
<path d="M519.8 97.4H571.5" stroke="#555"/>
</g>
<g fill="#111"><path d="M211.2 28.0L214.9 33.2L211.2 38.5L207.5 33.2Z"/></g>
<g fill="none" stroke="#333" stroke-width="1.3" stroke-linejoin="round"><polygon points="287.60,22.10 289.98,29.33 297.59,29.36 291.44,33.85 293.77,41.09 287.60,36.64 281.43,41.09 283.76,33.85 277.61,29.36 285.22,29.33"/></g>
<circle cx="380" cy="31.1" r="3.9" fill="none" stroke="#999" stroke-width="1.2"/>
<g stroke="#555" stroke-width="1.2" fill="none"><path d="M214.8 68.4L214.8 75.6 M211.7 70.2L217.9 73.8 M217.9 70.2L211.7 73.8"/></g>
<g stroke="#222" stroke-width="1.5" fill="none"><path d="M286.0 60.8V79.0 M281.8 73.0L286.0 79.5L290.2 73.0"/></g>
<g fill="#000"><path d="M132.8 144.1L137.0 149.4L132.8 154.7L128.6 149.4Z"/><path d="M158.0 140.0L162.2 145.3L158.0 150.6L153.8 145.3Z"/><path d="M181.5 79.7L185.7 85.0L181.5 90.3L177.3 85.0Z"/><path d="M301.8 175.1L306.0 180.4L301.8 185.7L297.6 180.4Z"/><path d="M402.6 187.8L406.8 193.1L402.6 198.4L398.4 193.1Z"/><path d="M462.1 192.9L466.3 198.2L462.1 203.5L457.9 198.2Z"/><path d="M520.0 194.2L524.2 199.5L520.0 204.8L515.8 199.5Z"/><path d="M537.0 200.4L541.2 205.7L537.0 211.0L532.8 205.7Z"/><path d="M131.8 387.9L136.0 393.2L131.8 398.5L127.6 393.2Z"/><path d="M158.0 392.0L162.2 397.3L158.0 402.6L153.8 397.3Z"/><path d="M182.4 361.2L186.6 366.5L182.4 371.8L178.2 366.5Z"/><path d="M300.5 416.4L304.7 421.7L300.5 427.0L296.3 421.7Z"/><path d="M403.2 429.4L407.4 434.7L403.2 440.0L399.0 434.7Z"/><path d="M462.9 434.4L467.1 439.7L462.9 445.0L458.7 439.7Z"/><path d="M521.3 440.1L525.5 445.4L521.3 450.7L517.1 445.4Z"/><path d="M538.4 442.2L542.6 447.5L538.4 452.8L534.2 447.5Z"/></g>
<g fill="none" stroke="#333" stroke-width="1.3" stroke-linejoin="round"><polygon points="88.40,174.10 90.75,181.26 98.29,181.29 92.21,185.74 94.51,192.91 88.40,188.50 82.29,192.91 84.59,185.74 78.51,181.29 86.05,181.26"/><polygon points="171.90,205.90 174.25,213.06 181.79,213.09 175.71,217.54 178.01,224.71 171.90,220.30 165.79,224.71 168.09,217.54 162.01,213.09 169.55,213.06"/><polygon points="216.60,261.20 218.95,268.36 226.49,268.39 220.41,272.84 222.71,280.01 216.60,275.60 210.49,280.01 212.79,272.84 206.71,268.39 214.25,268.36"/><polygon points="372.10,260.60 374.45,267.76 381.99,267.79 375.91,272.24 378.21,279.41 372.10,275.00 365.99,279.41 368.29,272.24 362.21,267.79 369.75,267.76"/><polygon points="407.30,303.90 409.65,311.06 417.19,311.09 411.11,315.54 413.41,322.71 407.30,318.30 401.19,322.71 403.49,315.54 397.41,311.09 404.95,311.06"/><polygon points="443.20,309.60 445.55,316.76 453.09,316.79 447.01,321.24 449.31,328.41 443.20,324.00 437.09,328.41 439.39,321.24 433.31,316.79 440.85,316.76"/><polygon points="485.00,311.00 487.35,318.16 494.89,318.19 488.81,322.64 491.11,329.81 485.00,325.40 478.89,329.81 481.19,322.64 475.11,318.19 482.65,318.16"/><polygon points="520.90,306.00 523.25,313.16 530.79,313.19 524.71,317.64 527.01,324.81 520.90,320.40 514.79,324.81 517.09,317.64 511.01,313.19 518.55,313.16"/><polygon points="539.30,314.30 541.65,321.46 549.19,321.49 543.11,325.94 545.41,333.11 539.30,328.70 533.19,333.11 535.49,325.94 529.41,321.49 536.95,321.46"/><polygon points="599.40,311.80 601.75,318.96 609.29,318.99 603.21,323.44 605.51,330.61 599.40,326.20 593.29,330.61 595.59,323.44 589.51,318.99 597.05,318.96"/><polygon points="680.00,306.80 682.35,313.96 689.89,313.99 683.81,318.44 686.11,325.61 680.00,321.20 673.89,325.61 676.19,318.44 670.11,313.99 677.65,313.96"/></g>
<g stroke="#333" stroke-width="1.5" fill="none"><path d="M94.5 130.0V148.5 M90.3 142.5L94.5 149.0L98.7 142.5"/><path d="M171.0 148.6V166.0 M166.8 160.0L171.0 166.5L175.2 160.0"/><path d="M114.6 258.0V276.5 M110.4 270.5L114.6 277.0L118.8 270.5"/><path d="M101.7 376.6V394.8 M97.5 388.8L101.7 395.3L105.9 388.8"/><path d="M112.8 384.3V402.2 M108.6 396.2L112.8 402.7L117.0 396.2"/><path d="M175.1 395.3V412.7 M170.9 406.7L175.1 413.2L179.3 406.7"/></g>
<g stroke="#555" stroke-width="1.3" fill="none"><path d="M143.3 164.5L143.3 171.1 M140.4 166.2L146.2 169.5 M146.2 166.2L140.4 169.5"/></g>
<g stroke="#444" stroke-width="1.3" fill="none"><path d="M207.6 172.5L207.6 179.1 M204.7 174.2L210.5 177.5 M210.5 174.2L204.7 177.5"/></g>
<g stroke="#333" stroke-width="1.3" fill="none"><path d="M143.0 279.9L143.0 286.5 M140.1 281.6L145.9 284.8 M145.9 281.6L140.1 284.8"/></g>
<g stroke="#333" stroke-width="1.3" fill="none"><path d="M205.8 293.7L205.8 300.3 M202.9 295.4L208.7 298.6 M208.7 295.4L202.9 298.6"/></g>
<g stroke="#777" stroke-width="1.3" fill="none"><path d="M145.0 402.6L145.0 409.2 M142.1 404.2L147.9 407.5 M147.9 404.2L142.1 407.5"/></g>
<g stroke="#666" stroke-width="1.3" fill="none"><path d="M207.2 416.9L207.2 423.5 M204.3 418.6L210.1 421.8 M210.1 418.6L204.3 421.8"/></g>
<g stroke="#6a6a6a" stroke-width="3" fill="none">
<path d="M806 35.35H1449" stroke="#ababab" stroke-width="2.7"/>
<path d="M808 38.15H1446" stroke="#3a3a3a" stroke-width="2.9"/>
<path d="M808.2 34V540.7" stroke="#7e7e7e" stroke-width="4.4"/>
<path d="M1445.6 34V540.7" stroke="#ababab" stroke-width="2.8"/>
<path d="M1448 34V540.7" stroke="#505050" stroke-width="2.1"/>
<path d="M853.0 537V533.0 M898.6 537V527.0 M944.3 537V533.0 M990.0 537V527.0 M1035.7 537V533.0 M1081.3 537V527.0 M1127.0 537V533.0 M1172.7 537V527.0 M1218.4 537V533.0 M1264.0 537V527.0 M1309.7 537V533.0 M1355.4 537V527.0 M1401.1 537V533.0" stroke="#555" stroke-width="2"/>
</g>
<g stroke="#daf7c8" stroke-width="8">
<path d="M919.4 35.8V94.8"/>
<path d="M939.6 35.8V124.5"/>
<path d="M959.2 35.8V85.8"/>
<path d="M1062.3 35.8V87.2"/>
<path d="M1149.1 35.8V85.0"/>
<path d="M1201.0 35.8V108.0"/>
<path d="M1239.3 35.8V50.3"/>
<path d="M1252.3 35.8V97.7"/>
<path d="M1263.8 35.8V77.2"/>
<path d="M1286.9 35.8V50.3"/>
<path d="M1335.7 35.8V50.3"/>
<path d="M1369.5 35.8V50.3"/>
</g>
<path d="M959.2 85V182" stroke="#bfeea8" stroke-width="6"/>
<g stroke="#7cf52a" stroke-width="5.2">
<path d="M919.4 35.8V94.3"/>
<path d="M939.6 35.8V124.0"/>
<path d="M959.2 35.8V85.3"/>
<path d="M1062.3 35.8V86.7"/>
<path d="M1149.1 35.8V84.5"/>
<path d="M1201.0 35.8V107.5"/>
<path d="M1239.3 35.8V49.8"/>
<path d="M1252.3 35.8V97.2"/>
<path d="M1263.8 35.8V76.7"/>
<path d="M1286.9 35.8V49.8"/>
<path d="M1335.7 35.8V49.8"/>
<path d="M1369.5 35.8V49.8"/>
</g>
<g fill="none" stroke="#e9e9e9" stroke-width="6" stroke-linejoin="round">
<polyline points="809.5,314.1 914.2,323.9 916.0,323.1 916.5,322.4 916.8,321.3 917.2,314.9 918.5,266.5 918.8,260.8 919.0,258.5 919.2,258.7 919.5,261.6 921.0,315.9 921.2,319.7 921.5,321.6 921.8,322.5 922.8,323.4 935.0,323.6 936.2,322.9 936.8,322.2 937.0,321.2 937.2,319.1 937.8,307.8 938.8,262.0 939.0,254.8 939.2,251.7 939.5,251.5 939.8,253.9 941.2,313.7 941.8,320.9 942.0,322.0 942.5,322.8 952.8,323.4 955.0,322.2 956.0,320.9 956.5,319.6 957.0,316.7 957.2,312.4 957.5,302.9 958.0,253.9 959.0,84.4 959.2,65.7 959.5,61.0 959.8,65.7 960.2,118.6 961.2,284.7 961.5,303.2 961.8,312.7 962.0,317.0 962.5,320.0 963.8,322.5 993.8,324.3 1001.2,320.6 1008.2,322.4 1009.0,322.1 1009.8,320.9 1010.8,316.9 1014.5,282.5 1015.2,279.1 1015.8,278.3 1016.2,278.2 1016.8,278.7 1017.5,281.4 1021.5,317.4 1022.5,321.3 1023.2,322.4 1024.0,322.5 1027.8,320.2 1030.2,320.4 1035.5,325.0 1058.2,326.3 1059.0,325.9 1059.2,325.5 1059.8,323.0 1061.2,293.0 1061.5,289.8 1061.8,288.5 1062.0,288.4 1062.2,289.5 1062.8,297.0 1063.8,319.8 1064.2,324.9 1064.8,326.5 1077.8,328.1 1078.8,327.4 1080.8,324.6 1081.8,324.4 1082.5,324.9 1084.5,327.9 1145.2,329.3 1146.0,328.9 1146.5,327.7 1147.0,323.3 1148.2,297.4 1148.5,294.4 1148.8,293.0 1149.0,292.9 1149.2,293.9 1149.8,300.9 1150.8,322.3 1151.2,327.1 1151.5,328.0 1152.0,328.7 1184.2,326.3 1185.5,325.4 1187.0,322.9 1190.5,313.2 1191.5,312.0 1192.5,311.9 1193.2,312.2 1194.5,314.3 1197.8,323.0 1198.2,323.6 1198.5,323.7 1198.8,323.5 1199.0,322.5 1199.5,317.2 1200.8,289.9 1201.0,287.4 1201.2,286.7 1201.5,287.0 1201.8,288.9 1203.2,320.6 1203.8,325.0 1204.2,326.3 1236.5,328.9 1237.5,328.4 1239.5,326.0 1240.5,325.7 1241.2,326.1 1243.5,328.8 1248.2,328.8 1248.8,328.5 1249.0,328.0 1249.5,325.4 1251.0,298.1 1251.2,295.6 1251.5,294.7 1251.8,294.7 1252.0,296.0 1253.5,323.3 1254.0,327.5 1254.5,328.7 1260.8,329.3 1261.2,329.1 1261.8,328.3 1262.2,325.6 1263.8,305.2 1264.0,304.1 1264.2,303.9 1264.5,304.4 1265.0,308.9 1266.0,324.2 1266.5,327.9 1267.0,329.1 1283.2,329.7 1284.5,328.8 1286.2,327.0 1287.2,326.9 1290.2,329.5 1330.5,328.8 1332.0,327.6 1334.8,323.6 1336.0,323.2 1337.0,323.6 1340.5,328.3 1365.8,329.1 1367.0,328.3 1368.8,326.4 1369.8,326.3 1372.8,329.0 1445.5,330.5"/>
<polyline points="809.5,393.0 912.0,406.0 914.5,405.0 915.5,404.0 916.0,402.6 916.2,400.9 916.5,397.2 917.0,376.4 918.2,266.4 918.5,258.3 918.8,256.9 919.0,260.6 919.5,291.2 920.5,382.6 921.0,399.2 921.2,401.9 921.8,403.9 923.5,405.7 932.8,405.8 934.8,404.7 935.8,403.4 936.2,401.4 936.5,398.5 937.0,381.3 938.2,266.9 938.5,255.2 938.8,251.4 939.0,252.8 939.2,261.1 940.5,374.8 941.0,396.3 941.2,400.1 941.5,401.9 942.0,403.2 944.0,404.8 952.2,404.4 954.5,403.0 955.8,401.1 956.5,398.8 957.0,394.9 957.2,389.2 957.5,376.9 958.0,312.8 959.0,91.1 959.2,66.6 959.5,60.4 959.8,66.6 960.2,135.7 961.2,352.6 961.5,376.8 961.8,389.2 962.0,394.8 962.5,398.7 963.8,401.9 1010.8,408.3 1011.8,407.9 1012.8,406.6 1015.0,401.3 1015.8,400.7 1016.5,400.7 1017.2,401.4 1019.8,407.2 1020.8,408.2 1056.5,408.5 1057.5,408.0 1058.0,406.8 1058.5,402.4 1060.0,356.4 1060.2,352.2 1060.5,350.5 1060.8,350.7 1061.0,352.8 1062.5,398.9 1063.0,405.9 1063.2,407.2 1063.8,408.2 1143.5,411.3 1145.0,410.6 1145.5,409.7 1146.0,406.2 1146.5,395.9 1147.5,360.8 1147.8,355.4 1148.0,352.7 1148.2,352.3 1148.5,353.4 1149.0,363.7 1150.0,398.6 1150.5,407.1 1150.8,408.9 1151.0,409.7 1151.5,410.4 1195.5,409.7 1196.5,409.1 1197.0,407.9 1197.5,403.4 1199.0,355.8 1199.2,351.4 1199.5,349.7 1199.8,349.9 1200.0,352.1 1201.5,399.7 1202.0,406.9 1202.2,408.3 1202.8,409.3 1235.5,411.9 1236.0,411.6 1236.5,410.3 1237.8,404.4 1238.0,403.9 1238.2,403.7 1238.5,403.8 1239.0,405.0 1240.2,410.9 1240.8,411.8 1247.0,411.7 1248.0,411.1 1248.5,410.1 1249.0,405.9 1250.5,362.2 1250.8,358.2 1251.0,356.6 1251.2,356.7 1251.5,358.8 1253.0,402.4 1253.5,409.1 1253.8,410.3 1254.2,411.3 1259.5,412.0 1260.5,411.6 1261.0,410.6 1261.5,407.0 1263.0,376.3 1263.2,374.2 1263.5,373.7 1263.8,374.3 1264.2,380.3 1265.5,407.1 1266.0,410.8 1266.5,411.8 1282.8,412.8 1283.2,412.5 1283.8,411.3 1285.0,405.0 1285.2,404.4 1285.5,404.1 1285.8,404.2 1286.0,404.5 1287.5,411.5 1288.0,412.6 1332.5,413.2 1333.0,412.9 1333.5,411.8 1334.8,405.1 1335.0,404.4 1335.2,404.0 1335.5,404.0 1335.8,404.3 1337.2,411.6 1337.8,412.8 1365.2,413.3 1365.8,413.0 1366.2,412.0 1367.8,405.0 1368.0,404.6 1368.2,404.5 1368.5,404.7 1369.0,406.2 1370.0,411.5 1370.5,412.8 1445.5,413.5"/>
<polyline points="809.5,481.6 840.2,485.1 841.0,484.8 841.5,484.1 841.8,483.0 842.2,477.0 843.8,432.5 844.0,430.0 844.2,429.6 844.5,430.8 845.0,440.7 846.0,474.4 846.5,482.7 847.0,485.3 856.0,491.3 875.8,491.3 877.0,490.6 877.8,489.7 878.2,488.4 878.8,485.6 879.0,480.7 879.2,466.3 880.2,235.5 880.5,200.5 880.8,194.4 881.0,210.8 882.0,449.7 882.2,474.9 882.5,484.6 882.8,488.0 883.5,491.3 884.8,493.5 890.8,496.0 891.5,495.9 893.0,492.9 893.2,492.7 893.8,492.8 894.2,493.6 895.2,496.2 895.8,496.8 917.2,497.7 918.2,497.0 919.5,495.6 920.2,495.5 921.0,496.0 922.2,497.6 946.5,497.5 948.2,496.5 949.2,494.8 949.8,492.9 950.0,490.2 950.2,482.3 950.5,461.5 951.5,265.2 951.8,251.8 952.0,256.9 953.0,447.8 953.2,476.1 953.5,488.0 953.8,492.2 954.2,494.6 955.2,496.5 957.0,497.5 957.5,497.5 958.0,497.1 959.8,492.1 960.2,491.5 960.8,491.5 961.2,492.3 963.0,497.7 963.8,498.4 979.8,498.8 981.0,498.2 982.0,496.7 983.2,492.3 985.8,478.9 986.5,476.9 987.5,476.0 988.0,475.7 988.2,474.7 988.5,471.4 989.5,419.3 989.8,411.3 990.0,410.2 990.2,413.9 991.2,475.2 991.5,484.7 991.8,489.4 992.0,491.4 992.5,492.9 993.5,493.9 1006.8,492.7 1009.5,490.9 1010.5,489.5 1011.5,486.3 1012.8,477.8 1015.8,446.0 1016.2,443.5 1016.5,442.9 1016.8,442.6 1017.0,442.7 1017.5,444.1 1021.5,482.8 1022.5,487.7 1023.8,490.3 1032.0,498.2 1041.0,499.5 1042.0,499.0 1044.0,496.2 1044.8,495.9 1045.5,496.1 1048.0,499.5 1055.0,500.7 1055.8,500.3 1056.5,498.7 1058.0,493.5 1058.5,492.9 1059.0,493.0 1059.5,493.7 1061.5,501.1 1062.2,502.3 1119.5,506.9 1121.2,506.0 1122.0,505.2 1122.5,504.0 1122.8,502.2 1123.0,497.0 1123.5,460.4 1124.2,381.6 1124.5,376.8 1124.8,381.5 1125.8,483.8 1126.0,496.6 1126.2,501.7 1126.5,503.4 1127.2,504.8 1146.0,507.2 1148.8,506.1 1149.8,505.0 1150.2,503.8 1150.8,501.4 1152.5,481.2 1152.8,479.8 1153.0,479.7 1153.2,480.7 1155.0,500.7 1155.5,503.3 1156.2,504.9 1180.2,506.9 1182.2,506.0 1183.8,503.9 1186.8,497.0 1187.5,496.3 1188.0,496.2 1190.2,498.5 1190.8,498.6 1191.2,497.9 1193.8,485.2 1194.2,484.1 1194.5,484.1 1195.0,485.2 1197.5,500.1 1198.5,502.9 1213.0,508.7 1217.0,507.8 1218.2,506.8 1219.0,505.3 1219.5,503.0 1221.2,482.2 1221.5,480.6 1221.8,480.2 1222.0,481.0 1223.8,501.8 1224.2,504.6 1225.0,506.4 1247.8,507.8 1249.5,506.9 1250.0,506.3 1250.5,504.9 1251.2,499.3 1252.5,485.1 1252.8,484.0 1253.0,483.9 1253.2,484.8 1255.0,503.3 1255.5,505.6 1256.2,506.9 1257.8,507.5 1259.0,507.2 1259.8,506.5 1260.2,505.1 1261.0,499.5 1262.0,488.0 1262.2,486.2 1262.5,485.4 1262.8,485.5 1263.2,488.6 1264.8,504.4 1265.2,506.5 1266.0,507.7 1280.5,508.9 1281.8,508.2 1283.8,506.0 1284.8,505.9 1285.8,506.5 1287.5,508.3 1312.5,508.4 1313.8,507.7 1314.2,506.8 1314.8,504.8 1316.2,493.6 1316.5,492.7 1316.8,492.5 1317.0,493.0 1318.8,505.6 1319.2,507.3 1320.2,508.5 1336.8,509.9 1337.8,509.2 1340.8,502.9 1341.5,502.4 1342.2,502.6 1343.0,503.5 1345.5,509.3 1346.8,510.2 1383.2,509.7 1384.8,508.8 1385.2,508.0 1385.8,506.2 1387.5,490.7 1387.8,489.7 1388.0,489.7 1388.2,490.4 1390.0,505.9 1390.5,507.9 1391.2,509.1 1408.8,510.8 1409.5,510.4 1411.2,506.5 1411.8,506.1 1412.2,506.2 1413.0,507.5 1414.2,510.4 1437.2,511.1 1437.8,510.8 1438.2,509.9 1440.0,501.1 1440.2,500.5 1440.5,500.2 1440.8,500.2 1441.0,500.5 1441.5,502.1 1442.8,508.8 1443.2,510.1 1443.8,510.5 1445.5,510.5"/>
</g>
<g fill="none" stroke="#222" stroke-width="2.8" stroke-linejoin="round">
<polyline points="809.5,314.1 914.2,323.9 916.0,323.1 916.5,322.4 916.8,321.3 917.2,314.9 918.5,266.5 918.8,260.8 919.0,258.5 919.2,258.7 919.5,261.6 921.0,315.9 921.2,319.7 921.5,321.6 921.8,322.5 922.8,323.4 935.0,323.6 936.2,322.9 936.8,322.2 937.0,321.2 937.2,319.1 937.8,307.8 938.8,262.0 939.0,254.8 939.2,251.7 939.5,251.5 939.8,253.9 941.2,313.7 941.8,320.9 942.0,322.0 942.5,322.8 952.8,323.4 955.0,322.2 956.0,320.9 956.5,319.6 957.0,316.7 957.2,312.4 957.5,302.9 958.0,253.9 959.0,84.4 959.2,65.7 959.5,61.0 959.8,65.7 960.2,118.6 961.2,284.7 961.5,303.2 961.8,312.7 962.0,317.0 962.5,320.0 963.8,322.5 993.8,324.3 1001.2,320.6 1008.2,322.4 1009.0,322.1 1009.8,320.9 1010.8,316.9 1014.5,282.5 1015.2,279.1 1015.8,278.3 1016.2,278.2 1016.8,278.7 1017.5,281.4 1021.5,317.4 1022.5,321.3 1023.2,322.4 1024.0,322.5 1027.8,320.2 1030.2,320.4 1035.5,325.0 1058.2,326.3 1059.0,325.9 1059.2,325.5 1059.8,323.0 1061.2,293.0 1061.5,289.8 1061.8,288.5 1062.0,288.4 1062.2,289.5 1062.8,297.0 1063.8,319.8 1064.2,324.9 1064.8,326.5 1077.8,328.1 1078.8,327.4 1080.8,324.6 1081.8,324.4 1082.5,324.9 1084.5,327.9 1145.2,329.3 1146.0,328.9 1146.5,327.7 1147.0,323.3 1148.2,297.4 1148.5,294.4 1148.8,293.0 1149.0,292.9 1149.2,293.9 1149.8,300.9 1150.8,322.3 1151.2,327.1 1151.5,328.0 1152.0,328.7 1184.2,326.3 1185.5,325.4 1187.0,322.9 1190.5,313.2 1191.5,312.0 1192.5,311.9 1193.2,312.2 1194.5,314.3 1197.8,323.0 1198.2,323.6 1198.5,323.7 1198.8,323.5 1199.0,322.5 1199.5,317.2 1200.8,289.9 1201.0,287.4 1201.2,286.7 1201.5,287.0 1201.8,288.9 1203.2,320.6 1203.8,325.0 1204.2,326.3 1236.5,328.9 1237.5,328.4 1239.5,326.0 1240.5,325.7 1241.2,326.1 1243.5,328.8 1248.2,328.8 1248.8,328.5 1249.0,328.0 1249.5,325.4 1251.0,298.1 1251.2,295.6 1251.5,294.7 1251.8,294.7 1252.0,296.0 1253.5,323.3 1254.0,327.5 1254.5,328.7 1260.8,329.3 1261.2,329.1 1261.8,328.3 1262.2,325.6 1263.8,305.2 1264.0,304.1 1264.2,303.9 1264.5,304.4 1265.0,308.9 1266.0,324.2 1266.5,327.9 1267.0,329.1 1283.2,329.7 1284.5,328.8 1286.2,327.0 1287.2,326.9 1290.2,329.5 1330.5,328.8 1332.0,327.6 1334.8,323.6 1336.0,323.2 1337.0,323.6 1340.5,328.3 1365.8,329.1 1367.0,328.3 1368.8,326.4 1369.8,326.3 1372.8,329.0 1445.5,330.5"/>
<polyline points="809.5,393.0 912.0,406.0 914.5,405.0 915.5,404.0 916.0,402.6 916.2,400.9 916.5,397.2 917.0,376.4 918.2,266.4 918.5,258.3 918.8,256.9 919.0,260.6 919.5,291.2 920.5,382.6 921.0,399.2 921.2,401.9 921.8,403.9 923.5,405.7 932.8,405.8 934.8,404.7 935.8,403.4 936.2,401.4 936.5,398.5 937.0,381.3 938.2,266.9 938.5,255.2 938.8,251.4 939.0,252.8 939.2,261.1 940.5,374.8 941.0,396.3 941.2,400.1 941.5,401.9 942.0,403.2 944.0,404.8 952.2,404.4 954.5,403.0 955.8,401.1 956.5,398.8 957.0,394.9 957.2,389.2 957.5,376.9 958.0,312.8 959.0,91.1 959.2,66.6 959.5,60.4 959.8,66.6 960.2,135.7 961.2,352.6 961.5,376.8 961.8,389.2 962.0,394.8 962.5,398.7 963.8,401.9 1010.8,408.3 1011.8,407.9 1012.8,406.6 1015.0,401.3 1015.8,400.7 1016.5,400.7 1017.2,401.4 1019.8,407.2 1020.8,408.2 1056.5,408.5 1057.5,408.0 1058.0,406.8 1058.5,402.4 1060.0,356.4 1060.2,352.2 1060.5,350.5 1060.8,350.7 1061.0,352.8 1062.5,398.9 1063.0,405.9 1063.2,407.2 1063.8,408.2 1143.5,411.3 1145.0,410.6 1145.5,409.7 1146.0,406.2 1146.5,395.9 1147.5,360.8 1147.8,355.4 1148.0,352.7 1148.2,352.3 1148.5,353.4 1149.0,363.7 1150.0,398.6 1150.5,407.1 1150.8,408.9 1151.0,409.7 1151.5,410.4 1195.5,409.7 1196.5,409.1 1197.0,407.9 1197.5,403.4 1199.0,355.8 1199.2,351.4 1199.5,349.7 1199.8,349.9 1200.0,352.1 1201.5,399.7 1202.0,406.9 1202.2,408.3 1202.8,409.3 1235.5,411.9 1236.0,411.6 1236.5,410.3 1237.8,404.4 1238.0,403.9 1238.2,403.7 1238.5,403.8 1239.0,405.0 1240.2,410.9 1240.8,411.8 1247.0,411.7 1248.0,411.1 1248.5,410.1 1249.0,405.9 1250.5,362.2 1250.8,358.2 1251.0,356.6 1251.2,356.7 1251.5,358.8 1253.0,402.4 1253.5,409.1 1253.8,410.3 1254.2,411.3 1259.5,412.0 1260.5,411.6 1261.0,410.6 1261.5,407.0 1263.0,376.3 1263.2,374.2 1263.5,373.7 1263.8,374.3 1264.2,380.3 1265.5,407.1 1266.0,410.8 1266.5,411.8 1282.8,412.8 1283.2,412.5 1283.8,411.3 1285.0,405.0 1285.2,404.4 1285.5,404.1 1285.8,404.2 1286.0,404.5 1287.5,411.5 1288.0,412.6 1332.5,413.2 1333.0,412.9 1333.5,411.8 1334.8,405.1 1335.0,404.4 1335.2,404.0 1335.5,404.0 1335.8,404.3 1337.2,411.6 1337.8,412.8 1365.2,413.3 1365.8,413.0 1366.2,412.0 1367.8,405.0 1368.0,404.6 1368.2,404.5 1368.5,404.7 1369.0,406.2 1370.0,411.5 1370.5,412.8 1445.5,413.5"/>
<polyline points="809.5,481.6 840.2,485.1 841.0,484.8 841.5,484.1 841.8,483.0 842.2,477.0 843.8,432.5 844.0,430.0 844.2,429.6 844.5,430.8 845.0,440.7 846.0,474.4 846.5,482.7 847.0,485.3 856.0,491.3 875.8,491.3 877.0,490.6 877.8,489.7 878.2,488.4 878.8,485.6 879.0,480.7 879.2,466.3 880.2,235.5 880.5,200.5 880.8,194.4 881.0,210.8 882.0,449.7 882.2,474.9 882.5,484.6 882.8,488.0 883.5,491.3 884.8,493.5 890.8,496.0 891.5,495.9 893.0,492.9 893.2,492.7 893.8,492.8 894.2,493.6 895.2,496.2 895.8,496.8 917.2,497.7 918.2,497.0 919.5,495.6 920.2,495.5 921.0,496.0 922.2,497.6 946.5,497.5 948.2,496.5 949.2,494.8 949.8,492.9 950.0,490.2 950.2,482.3 950.5,461.5 951.5,265.2 951.8,251.8 952.0,256.9 953.0,447.8 953.2,476.1 953.5,488.0 953.8,492.2 954.2,494.6 955.2,496.5 957.0,497.5 957.5,497.5 958.0,497.1 959.8,492.1 960.2,491.5 960.8,491.5 961.2,492.3 963.0,497.7 963.8,498.4 979.8,498.8 981.0,498.2 982.0,496.7 983.2,492.3 985.8,478.9 986.5,476.9 987.5,476.0 988.0,475.7 988.2,474.7 988.5,471.4 989.5,419.3 989.8,411.3 990.0,410.2 990.2,413.9 991.2,475.2 991.5,484.7 991.8,489.4 992.0,491.4 992.5,492.9 993.5,493.9 1006.8,492.7 1009.5,490.9 1010.5,489.5 1011.5,486.3 1012.8,477.8 1015.8,446.0 1016.2,443.5 1016.5,442.9 1016.8,442.6 1017.0,442.7 1017.5,444.1 1021.5,482.8 1022.5,487.7 1023.8,490.3 1032.0,498.2 1041.0,499.5 1042.0,499.0 1044.0,496.2 1044.8,495.9 1045.5,496.1 1048.0,499.5 1055.0,500.7 1055.8,500.3 1056.5,498.7 1058.0,493.5 1058.5,492.9 1059.0,493.0 1059.5,493.7 1061.5,501.1 1062.2,502.3 1119.5,506.9 1121.2,506.0 1122.0,505.2 1122.5,504.0 1122.8,502.2 1123.0,497.0 1123.5,460.4 1124.2,381.6 1124.5,376.8 1124.8,381.5 1125.8,483.8 1126.0,496.6 1126.2,501.7 1126.5,503.4 1127.2,504.8 1146.0,507.2 1148.8,506.1 1149.8,505.0 1150.2,503.8 1150.8,501.4 1152.5,481.2 1152.8,479.8 1153.0,479.7 1153.2,480.7 1155.0,500.7 1155.5,503.3 1156.2,504.9 1180.2,506.9 1182.2,506.0 1183.8,503.9 1186.8,497.0 1187.5,496.3 1188.0,496.2 1190.2,498.5 1190.8,498.6 1191.2,497.9 1193.8,485.2 1194.2,484.1 1194.5,484.1 1195.0,485.2 1197.5,500.1 1198.5,502.9 1213.0,508.7 1217.0,507.8 1218.2,506.8 1219.0,505.3 1219.5,503.0 1221.2,482.2 1221.5,480.6 1221.8,480.2 1222.0,481.0 1223.8,501.8 1224.2,504.6 1225.0,506.4 1247.8,507.8 1249.5,506.9 1250.0,506.3 1250.5,504.9 1251.2,499.3 1252.5,485.1 1252.8,484.0 1253.0,483.9 1253.2,484.8 1255.0,503.3 1255.5,505.6 1256.2,506.9 1257.8,507.5 1259.0,507.2 1259.8,506.5 1260.2,505.1 1261.0,499.5 1262.0,488.0 1262.2,486.2 1262.5,485.4 1262.8,485.5 1263.2,488.6 1264.8,504.4 1265.2,506.5 1266.0,507.7 1280.5,508.9 1281.8,508.2 1283.8,506.0 1284.8,505.9 1285.8,506.5 1287.5,508.3 1312.5,508.4 1313.8,507.7 1314.2,506.8 1314.8,504.8 1316.2,493.6 1316.5,492.7 1316.8,492.5 1317.0,493.0 1318.8,505.6 1319.2,507.3 1320.2,508.5 1336.8,509.9 1337.8,509.2 1340.8,502.9 1341.5,502.4 1342.2,502.6 1343.0,503.5 1345.5,509.3 1346.8,510.2 1383.2,509.7 1384.8,508.8 1385.2,508.0 1385.8,506.2 1387.5,490.7 1387.8,489.7 1388.0,489.7 1388.2,490.4 1390.0,505.9 1390.5,507.9 1391.2,509.1 1408.8,510.8 1409.5,510.4 1411.2,506.5 1411.8,506.1 1412.2,506.2 1413.0,507.5 1414.2,510.4 1437.2,511.1 1437.8,510.8 1438.2,509.9 1440.0,501.1 1440.2,500.5 1440.5,500.2 1440.8,500.2 1441.0,500.5 1441.5,502.1 1442.8,508.8 1443.2,510.1 1443.8,510.5 1445.5,510.5"/>
</g>
<g stroke="#dc5058" stroke-width="7.5" style="mix-blend-mode:multiply">
<path d="M880.8 536.5V335.0"/>
<path d="M951.6 536.5V355.6"/>
<path d="M989.5 536.5V495.9"/>
<path d="M1124.9 536.5V455.6"/>
<path d="M1153.0 536.5V525.0"/>
<path d="M1185.6 536.5V533.0"/>
<path d="M1222.0 536.5V525.0"/>
<path d="M1253.2 536.5V524.5"/>
<path d="M1263.1 536.5V524.5"/>
<path d="M1317.0 536.5V533.0"/>
<path d="M1387.4 536.5V524.5"/>
<path d="M1411.4 536.5V533.0"/>
<path d="M1439.7 536.5V524.5"/>
</g>
<g stroke="#d81414" stroke-width="3.6">
<path d="M880.2 536.5V335.0"/>
<path d="M951.0 536.5V355.6"/>
<path d="M988.9 536.5V495.9"/>
<path d="M1124.3 536.5V455.6"/>
<path d="M1152.4 536.5V525.0"/>
<path d="M1185.0 536.5V533.0"/>
<path d="M1221.4 536.5V525.0"/>
<path d="M1252.6 536.5V524.5"/>
<path d="M1262.5 536.5V524.5"/>
<path d="M1316.4 536.5V533.0"/>
<path d="M1386.8 536.5V524.5"/>
<path d="M1410.8 536.5V533.0"/>
<path d="M1439.1 536.5V524.5"/>
</g>
<g stroke="#e062f2" stroke-width="5.5" style="mix-blend-mode:multiply">
<path d="M963.7 536.5V522.8"/>
<path d="M1018.0 536.5V409.3"/>
<path d="M1195.5 536.5V455.6"/>
<path d="M1308.4 536.5V525.4"/>
<path d="M1345.4 536.5V511.5"/>
</g>
<path d="M810.4 537.1H1444.2" stroke="#9a9a9a" stroke-width="1.8"/>
<path d="M810.4 539.35H1449" stroke="#444" stroke-width="2.7"/>
<g class="t" font-size="18" fill="#444" text-anchor="middle">
<text x="807.3" y="562.3">20</text>
<text x="898.6" y="562.3">30</text>
<text x="990.0" y="562.3">40</text>
<text x="1081.3" y="562.3">50</text>
<text x="1172.7" y="562.3">60</text>
<text x="1264.0" y="562.3">70</text>
<text x="1355.4" y="562.3">80</text>
<text x="1446.8" y="562.3">90</text>
</g>
<text class="t" font-size="22" fill="#333" x="1092.5" y="582.3">2θ (</text>
<text class="t" font-size="22" fill="#333" x="1134" y="582.3">)</text>
<text class="t" font-size="12" fill="#555" x="1126" y="572">°</text>
<text class="t" font-size="22" fill="#333" transform="translate(773.3,365.5) rotate(-90)" textLength="149" lengthAdjust="spacingAndGlyphs">Intensity (a.u.)</text>
<g class="t" font-size="22" fill="#454545">
<text x="1268.7" y="294.9" textLength="151.7" lengthAdjust="spacingAndGlyphs">dehydrogenated</text>
<text x="1314.1" y="388.4" textLength="109.4" lengthAdjust="spacingAndGlyphs">as prepared</text>
<text x="1293.6" y="472.7" textLength="128.5" lengthAdjust="spacingAndGlyphs">hydrogenated</text>
<text x="1355" y="76.4" textLength="79.4" lengthAdjust="spacingAndGlyphs">Mg@Co</text>
<text x="1132" y="177.7" textLength="13.3" lengthAdjust="spacingAndGlyphs">β</text>
<text x="1149" y="177.7">–</text>
<text x="1160.6" y="177.7" textLength="33.5" lengthAdjust="spacingAndGlyphs">Mg</text>
<text x="1193.5" y="187.2" font-size="15" textLength="6.8" lengthAdjust="spacingAndGlyphs">2</text>
<text x="1202.5" y="177.7" textLength="42" lengthAdjust="spacingAndGlyphs">CoH</text>
<text x="1246.4" y="187.2" font-size="15" textLength="7.2" lengthAdjust="spacingAndGlyphs">5</text>
<text x="1292.2" y="177.7" textLength="31.4" lengthAdjust="spacingAndGlyphs">Mg</text>
<text x="1322.7" y="190" font-size="15" textLength="7.2" lengthAdjust="spacingAndGlyphs">2</text>
<text x="1332.2" y="177.7" textLength="27.7" lengthAdjust="spacingAndGlyphs">Co</text>
</g>
<circle cx="1279.8" cy="170" r="4.9" fill="#111"/>
<g fill="none" stroke="#333" stroke-width="3.2" stroke-linejoin="miter"><path d="M1109.0 162.3H1120.5L1114.8 174.3Z"/></g>
<g fill="none" stroke="#333" stroke-width="2.7"><path d="M838.4 413.3H848.9L843.6 424.3Z"/><path d="M975.0 440.4H985.5L980.2 451.4Z"/><path d="M1039.7 478.2H1050.2L1044.9 489.2Z"/><path d="M1053.5 469.6H1064.0L1058.8 480.6Z"/><path d="M1280.0 483.8H1290.5L1285.3 494.8Z"/></g>
<g fill="#111"><circle cx="997.4" cy="306.9" r="3.6"/><circle cx="1030.9" cy="306.9" r="3.6"/></g>
<g font-family="Liberation Serif,serif" fill="#111">
<text x="334.8" y="662.5" font-size="34.5">(</text>
<text x="346.2" y="663" font-size="36" font-weight="bold" textLength="15" lengthAdjust="spacingAndGlyphs">a</text>
<text x="362.3" y="662.5" font-size="34.5">)</text>
<text x="1089.2" y="662.5" font-size="34.5">(</text>
<text x="1099.4" y="663" font-size="35" font-weight="bold" textLength="18.6" lengthAdjust="spacingAndGlyphs">b</text>
<text x="1118.6" y="662.5" font-size="34.5">)</text>
</g>
</svg>
</body></html>
